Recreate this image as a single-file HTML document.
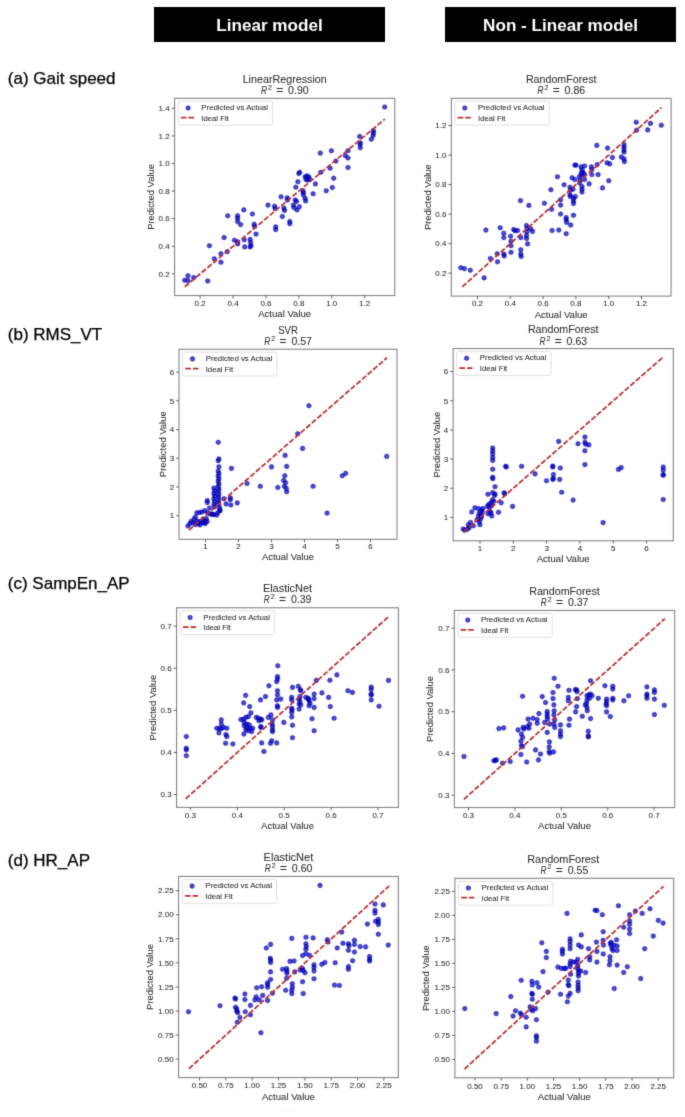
<!DOCTYPE html>
<html><head><meta charset="utf-8"><style>
html,body{margin:0;padding:0;background:#fff;}
body{width:685px;height:1117px;overflow:hidden;position:relative;font-family:'Liberation Sans', sans-serif;}
#wrap{position:absolute;left:0;top:0;width:685px;height:1117px;background:#fff;filter:url(#bl);}
.hdr{position:absolute;top:7px;height:35px;background:#000;color:#fff;font-weight:bold;font-size:17.1px;text-align:center;line-height:38px;}
.row{position:absolute;left:7.8px;font-size:17.0px;color:#000;line-height:1;white-space:nowrap;-webkit-text-stroke:0.25px #000;}
svg{position:absolute;left:0;top:0;}
svg text{font-family:'Liberation Sans', sans-serif;stroke:#2a2a2a;stroke-width:0.05px;paint-order:stroke;}
</style></head><body><svg width="0" height="0" style="position:absolute"><defs><filter id="bl" x="0" y="0" width="100%" height="100%" color-interpolation-filters="sRGB"><feConvolveMatrix order="3" kernelMatrix="1 6 1 6 36 6 1 6 1" divisor="64" edgeMode="duplicate" preserveAlpha="false"/></filter></defs></svg><div id="wrap">
<div class="hdr" style="left:154px;width:231px;">Linear model</div>
<div class="hdr" style="left:445px;width:231px;">Non - Linear model</div>
<div class="row" style="top:69.5px">(a) Gait speed</div>
<div class="row" style="top:326.3px">(b) RMS_VT</div>
<div class="row" style="top:575.1px">(c) SampEn_AP</div>
<div class="row" style="top:851.9px">(d) HR_AP</div>
<svg width="685" height="1117" viewBox="0 0 685 1117">
<g><circle cx="184.7" cy="280.2" r="2.3" fill="#0000d2" fill-opacity="0.72" stroke="#000098" stroke-opacity="0.7" stroke-width="0.6"/><circle cx="188.0" cy="275.8" r="2.3" fill="#0000d2" fill-opacity="0.72" stroke="#000098" stroke-opacity="0.7" stroke-width="0.6"/><circle cx="188.0" cy="280.6" r="2.3" fill="#0000d2" fill-opacity="0.72" stroke="#000098" stroke-opacity="0.7" stroke-width="0.6"/><circle cx="193.7" cy="277.6" r="2.3" fill="#0000d2" fill-opacity="0.72" stroke="#000098" stroke-opacity="0.7" stroke-width="0.6"/><circle cx="207.7" cy="281.0" r="2.3" fill="#0000d2" fill-opacity="0.72" stroke="#000098" stroke-opacity="0.7" stroke-width="0.6"/><circle cx="209.4" cy="245.7" r="2.3" fill="#0000d2" fill-opacity="0.72" stroke="#000098" stroke-opacity="0.7" stroke-width="0.6"/><circle cx="214.3" cy="258.8" r="2.3" fill="#0000d2" fill-opacity="0.72" stroke="#000098" stroke-opacity="0.7" stroke-width="0.6"/><circle cx="220.9" cy="262.2" r="2.3" fill="#0000d2" fill-opacity="0.72" stroke="#000098" stroke-opacity="0.7" stroke-width="0.6"/><circle cx="220.9" cy="253.7" r="2.3" fill="#0000d2" fill-opacity="0.72" stroke="#000098" stroke-opacity="0.7" stroke-width="0.6"/><circle cx="227.3" cy="251.6" r="2.3" fill="#0000d2" fill-opacity="0.72" stroke="#000098" stroke-opacity="0.7" stroke-width="0.6"/><circle cx="224.1" cy="237.6" r="2.3" fill="#0000d2" fill-opacity="0.72" stroke="#000098" stroke-opacity="0.7" stroke-width="0.6"/><circle cx="227.7" cy="215.8" r="2.3" fill="#0000d2" fill-opacity="0.72" stroke="#000098" stroke-opacity="0.7" stroke-width="0.6"/><circle cx="234.5" cy="240.3" r="2.3" fill="#0000d2" fill-opacity="0.72" stroke="#000098" stroke-opacity="0.7" stroke-width="0.6"/><circle cx="237.6" cy="241.8" r="2.3" fill="#0000d2" fill-opacity="0.72" stroke="#000098" stroke-opacity="0.7" stroke-width="0.6"/><circle cx="237.6" cy="243.9" r="2.3" fill="#0000d2" fill-opacity="0.72" stroke="#000098" stroke-opacity="0.7" stroke-width="0.6"/><circle cx="237.6" cy="215.8" r="2.3" fill="#0000d2" fill-opacity="0.72" stroke="#000098" stroke-opacity="0.7" stroke-width="0.6"/><circle cx="237.6" cy="218.3" r="2.3" fill="#0000d2" fill-opacity="0.72" stroke="#000098" stroke-opacity="0.7" stroke-width="0.6"/><circle cx="237.6" cy="221.5" r="2.3" fill="#0000d2" fill-opacity="0.72" stroke="#000098" stroke-opacity="0.7" stroke-width="0.6"/><circle cx="240.6" cy="224.6" r="2.3" fill="#0000d2" fill-opacity="0.72" stroke="#000098" stroke-opacity="0.7" stroke-width="0.6"/><circle cx="243.8" cy="209.9" r="2.3" fill="#0000d2" fill-opacity="0.72" stroke="#000098" stroke-opacity="0.7" stroke-width="0.6"/><circle cx="244.2" cy="239.8" r="2.3" fill="#0000d2" fill-opacity="0.72" stroke="#000098" stroke-opacity="0.7" stroke-width="0.6"/><circle cx="244.7" cy="246.9" r="2.3" fill="#0000d2" fill-opacity="0.72" stroke="#000098" stroke-opacity="0.7" stroke-width="0.6"/><circle cx="250.1" cy="239.4" r="2.3" fill="#0000d2" fill-opacity="0.72" stroke="#000098" stroke-opacity="0.7" stroke-width="0.6"/><circle cx="250.6" cy="242.6" r="2.3" fill="#0000d2" fill-opacity="0.72" stroke="#000098" stroke-opacity="0.7" stroke-width="0.6"/><circle cx="251.0" cy="245.7" r="2.3" fill="#0000d2" fill-opacity="0.72" stroke="#000098" stroke-opacity="0.7" stroke-width="0.6"/><circle cx="250.1" cy="246.9" r="2.3" fill="#0000d2" fill-opacity="0.72" stroke="#000098" stroke-opacity="0.7" stroke-width="0.6"/><circle cx="252.4" cy="214.0" r="2.3" fill="#0000d2" fill-opacity="0.72" stroke="#000098" stroke-opacity="0.7" stroke-width="0.6"/><circle cx="254.2" cy="224.2" r="2.3" fill="#0000d2" fill-opacity="0.72" stroke="#000098" stroke-opacity="0.7" stroke-width="0.6"/><circle cx="254.6" cy="226.5" r="2.3" fill="#0000d2" fill-opacity="0.72" stroke="#000098" stroke-opacity="0.7" stroke-width="0.6"/><circle cx="256.0" cy="234.1" r="2.3" fill="#0000d2" fill-opacity="0.72" stroke="#000098" stroke-opacity="0.7" stroke-width="0.6"/><circle cx="268.0" cy="205.1" r="2.3" fill="#0000d2" fill-opacity="0.72" stroke="#000098" stroke-opacity="0.7" stroke-width="0.6"/><circle cx="274.6" cy="206.3" r="2.3" fill="#0000d2" fill-opacity="0.72" stroke="#000098" stroke-opacity="0.7" stroke-width="0.6"/><circle cx="275.1" cy="208.6" r="2.3" fill="#0000d2" fill-opacity="0.72" stroke="#000098" stroke-opacity="0.7" stroke-width="0.6"/><circle cx="275.7" cy="226.9" r="2.3" fill="#0000d2" fill-opacity="0.72" stroke="#000098" stroke-opacity="0.7" stroke-width="0.6"/><circle cx="275.7" cy="229.6" r="2.3" fill="#0000d2" fill-opacity="0.72" stroke="#000098" stroke-opacity="0.7" stroke-width="0.6"/><circle cx="281.1" cy="196.8" r="2.3" fill="#0000d2" fill-opacity="0.72" stroke="#000098" stroke-opacity="0.7" stroke-width="0.6"/><circle cx="282.3" cy="216.5" r="2.3" fill="#0000d2" fill-opacity="0.72" stroke="#000098" stroke-opacity="0.7" stroke-width="0.6"/><circle cx="283.9" cy="208.1" r="2.3" fill="#0000d2" fill-opacity="0.72" stroke="#000098" stroke-opacity="0.7" stroke-width="0.6"/><circle cx="284.5" cy="210.4" r="2.3" fill="#0000d2" fill-opacity="0.72" stroke="#000098" stroke-opacity="0.7" stroke-width="0.6"/><circle cx="287.2" cy="197.9" r="2.3" fill="#0000d2" fill-opacity="0.72" stroke="#000098" stroke-opacity="0.7" stroke-width="0.6"/><circle cx="287.5" cy="200.0" r="2.3" fill="#0000d2" fill-opacity="0.72" stroke="#000098" stroke-opacity="0.7" stroke-width="0.6"/><circle cx="289.8" cy="221.5" r="2.3" fill="#0000d2" fill-opacity="0.72" stroke="#000098" stroke-opacity="0.7" stroke-width="0.6"/><circle cx="289.8" cy="223.7" r="2.3" fill="#0000d2" fill-opacity="0.72" stroke="#000098" stroke-opacity="0.7" stroke-width="0.6"/><circle cx="293.4" cy="205.1" r="2.3" fill="#0000d2" fill-opacity="0.72" stroke="#000098" stroke-opacity="0.7" stroke-width="0.6"/><circle cx="294.0" cy="207.6" r="2.3" fill="#0000d2" fill-opacity="0.72" stroke="#000098" stroke-opacity="0.7" stroke-width="0.6"/><circle cx="295.2" cy="200.0" r="2.3" fill="#0000d2" fill-opacity="0.72" stroke="#000098" stroke-opacity="0.7" stroke-width="0.6"/><circle cx="296.5" cy="201.5" r="2.3" fill="#0000d2" fill-opacity="0.72" stroke="#000098" stroke-opacity="0.7" stroke-width="0.6"/><circle cx="297.0" cy="209.9" r="2.3" fill="#0000d2" fill-opacity="0.72" stroke="#000098" stroke-opacity="0.7" stroke-width="0.6"/><circle cx="299.3" cy="206.8" r="2.3" fill="#0000d2" fill-opacity="0.72" stroke="#000098" stroke-opacity="0.7" stroke-width="0.6"/><circle cx="295.8" cy="187.2" r="2.3" fill="#0000d2" fill-opacity="0.72" stroke="#000098" stroke-opacity="0.7" stroke-width="0.6"/><circle cx="297.9" cy="181.8" r="2.3" fill="#0000d2" fill-opacity="0.72" stroke="#000098" stroke-opacity="0.7" stroke-width="0.6"/><circle cx="298.8" cy="173.5" r="2.3" fill="#0000d2" fill-opacity="0.72" stroke="#000098" stroke-opacity="0.7" stroke-width="0.6"/><circle cx="299.7" cy="172.3" r="2.3" fill="#0000d2" fill-opacity="0.72" stroke="#000098" stroke-opacity="0.7" stroke-width="0.6"/><circle cx="302.9" cy="190.7" r="2.3" fill="#0000d2" fill-opacity="0.72" stroke="#000098" stroke-opacity="0.7" stroke-width="0.6"/><circle cx="303.3" cy="192.5" r="2.3" fill="#0000d2" fill-opacity="0.72" stroke="#000098" stroke-opacity="0.7" stroke-width="0.6"/><circle cx="303.3" cy="194.7" r="2.3" fill="#0000d2" fill-opacity="0.72" stroke="#000098" stroke-opacity="0.7" stroke-width="0.6"/><circle cx="305.1" cy="198.3" r="2.3" fill="#0000d2" fill-opacity="0.72" stroke="#000098" stroke-opacity="0.7" stroke-width="0.6"/><circle cx="305.6" cy="200.9" r="2.3" fill="#0000d2" fill-opacity="0.72" stroke="#000098" stroke-opacity="0.7" stroke-width="0.6"/><circle cx="305.1" cy="176.8" r="2.3" fill="#0000d2" fill-opacity="0.72" stroke="#000098" stroke-opacity="0.7" stroke-width="0.6"/><circle cx="306.9" cy="175.9" r="2.3" fill="#0000d2" fill-opacity="0.72" stroke="#000098" stroke-opacity="0.7" stroke-width="0.6"/><circle cx="308.6" cy="176.8" r="2.3" fill="#0000d2" fill-opacity="0.72" stroke="#000098" stroke-opacity="0.7" stroke-width="0.6"/><circle cx="306.0" cy="179.5" r="2.3" fill="#0000d2" fill-opacity="0.72" stroke="#000098" stroke-opacity="0.7" stroke-width="0.6"/><circle cx="307.7" cy="180.0" r="2.3" fill="#0000d2" fill-opacity="0.72" stroke="#000098" stroke-opacity="0.7" stroke-width="0.6"/><circle cx="309.5" cy="178.9" r="2.3" fill="#0000d2" fill-opacity="0.72" stroke="#000098" stroke-opacity="0.7" stroke-width="0.6"/><circle cx="313.1" cy="193.8" r="2.3" fill="#0000d2" fill-opacity="0.72" stroke="#000098" stroke-opacity="0.7" stroke-width="0.6"/><circle cx="315.4" cy="183.9" r="2.3" fill="#0000d2" fill-opacity="0.72" stroke="#000098" stroke-opacity="0.7" stroke-width="0.6"/><circle cx="320.3" cy="153.1" r="2.3" fill="#0000d2" fill-opacity="0.72" stroke="#000098" stroke-opacity="0.7" stroke-width="0.6"/><circle cx="320.8" cy="172.3" r="2.3" fill="#0000d2" fill-opacity="0.72" stroke="#000098" stroke-opacity="0.7" stroke-width="0.6"/><circle cx="326.2" cy="190.7" r="2.3" fill="#0000d2" fill-opacity="0.72" stroke="#000098" stroke-opacity="0.7" stroke-width="0.6"/><circle cx="330.1" cy="168.2" r="2.3" fill="#0000d2" fill-opacity="0.72" stroke="#000098" stroke-opacity="0.7" stroke-width="0.6"/><circle cx="331.4" cy="150.8" r="2.3" fill="#0000d2" fill-opacity="0.72" stroke="#000098" stroke-opacity="0.7" stroke-width="0.6"/><circle cx="332.3" cy="187.5" r="2.3" fill="#0000d2" fill-opacity="0.72" stroke="#000098" stroke-opacity="0.7" stroke-width="0.6"/><circle cx="333.7" cy="178.2" r="2.3" fill="#0000d2" fill-opacity="0.72" stroke="#000098" stroke-opacity="0.7" stroke-width="0.6"/><circle cx="335.9" cy="161.0" r="2.3" fill="#0000d2" fill-opacity="0.72" stroke="#000098" stroke-opacity="0.7" stroke-width="0.6"/><circle cx="345.3" cy="155.6" r="2.3" fill="#0000d2" fill-opacity="0.72" stroke="#000098" stroke-opacity="0.7" stroke-width="0.6"/><circle cx="348.0" cy="158.0" r="2.3" fill="#0000d2" fill-opacity="0.72" stroke="#000098" stroke-opacity="0.7" stroke-width="0.6"/><circle cx="348.0" cy="150.8" r="2.3" fill="#0000d2" fill-opacity="0.72" stroke="#000098" stroke-opacity="0.7" stroke-width="0.6"/><circle cx="348.0" cy="167.5" r="2.3" fill="#0000d2" fill-opacity="0.72" stroke="#000098" stroke-opacity="0.7" stroke-width="0.6"/><circle cx="359.7" cy="136.5" r="2.3" fill="#0000d2" fill-opacity="0.72" stroke="#000098" stroke-opacity="0.7" stroke-width="0.6"/><circle cx="360.2" cy="142.8" r="2.3" fill="#0000d2" fill-opacity="0.72" stroke="#000098" stroke-opacity="0.7" stroke-width="0.6"/><circle cx="360.2" cy="144.5" r="2.3" fill="#0000d2" fill-opacity="0.72" stroke="#000098" stroke-opacity="0.7" stroke-width="0.6"/><circle cx="360.2" cy="147.8" r="2.3" fill="#0000d2" fill-opacity="0.72" stroke="#000098" stroke-opacity="0.7" stroke-width="0.6"/><circle cx="371.3" cy="139.2" r="2.3" fill="#0000d2" fill-opacity="0.72" stroke="#000098" stroke-opacity="0.7" stroke-width="0.6"/><circle cx="373.1" cy="135.6" r="2.3" fill="#0000d2" fill-opacity="0.72" stroke="#000098" stroke-opacity="0.7" stroke-width="0.6"/><circle cx="373.4" cy="132.9" r="2.3" fill="#0000d2" fill-opacity="0.72" stroke="#000098" stroke-opacity="0.7" stroke-width="0.6"/><circle cx="373.4" cy="130.6" r="2.3" fill="#0000d2" fill-opacity="0.72" stroke="#000098" stroke-opacity="0.7" stroke-width="0.6"/><circle cx="384.7" cy="107.0" r="2.3" fill="#0000d2" fill-opacity="0.72" stroke="#000098" stroke-opacity="0.7" stroke-width="0.6"/><line x1="184.79" y1="286.73" x2="384.78" y2="119.06" stroke="#c42c2c" stroke-width="1.75" stroke-dasharray="5.4 2.0"/><rect x="174.60" y="98.30" width="220.20" height="197.30" fill="none" stroke="#7a7a7a" stroke-width="1"/><line x1="200.10" y1="295.60" x2="200.10" y2="298.50" stroke="#555" stroke-width="0.9"/><text x="200.10" y="305.80" font-size="7.83" text-anchor="middle" fill="#2a2a2a" textLength="11.13" lengthAdjust="spacingAndGlyphs">0.2</text><line x1="233.02" y1="295.60" x2="233.02" y2="298.50" stroke="#555" stroke-width="0.9"/><text x="233.02" y="305.80" font-size="7.83" text-anchor="middle" fill="#2a2a2a" textLength="11.13" lengthAdjust="spacingAndGlyphs">0.4</text><line x1="265.94" y1="295.60" x2="265.94" y2="298.50" stroke="#555" stroke-width="0.9"/><text x="265.94" y="305.80" font-size="7.83" text-anchor="middle" fill="#2a2a2a" textLength="11.13" lengthAdjust="spacingAndGlyphs">0.6</text><line x1="298.86" y1="295.60" x2="298.86" y2="298.50" stroke="#555" stroke-width="0.9"/><text x="298.86" y="305.80" font-size="7.83" text-anchor="middle" fill="#2a2a2a" textLength="11.13" lengthAdjust="spacingAndGlyphs">0.8</text><line x1="331.78" y1="295.60" x2="331.78" y2="298.50" stroke="#555" stroke-width="0.9"/><text x="331.78" y="305.80" font-size="7.83" text-anchor="middle" fill="#2a2a2a" textLength="11.13" lengthAdjust="spacingAndGlyphs">1.0</text><line x1="364.70" y1="295.60" x2="364.70" y2="298.50" stroke="#555" stroke-width="0.9"/><text x="364.70" y="305.80" font-size="7.83" text-anchor="middle" fill="#2a2a2a" textLength="11.13" lengthAdjust="spacingAndGlyphs">1.2</text><line x1="171.70" y1="273.90" x2="174.60" y2="273.90" stroke="#555" stroke-width="0.9"/><text x="169.70" y="276.65" font-size="7.83" text-anchor="end" fill="#2a2a2a" textLength="11.13" lengthAdjust="spacingAndGlyphs">0.2</text><line x1="171.70" y1="246.30" x2="174.60" y2="246.30" stroke="#555" stroke-width="0.9"/><text x="169.70" y="249.05" font-size="7.83" text-anchor="end" fill="#2a2a2a" textLength="11.13" lengthAdjust="spacingAndGlyphs">0.4</text><line x1="171.70" y1="218.70" x2="174.60" y2="218.70" stroke="#555" stroke-width="0.9"/><text x="169.70" y="221.45" font-size="7.83" text-anchor="end" fill="#2a2a2a" textLength="11.13" lengthAdjust="spacingAndGlyphs">0.6</text><line x1="171.70" y1="191.10" x2="174.60" y2="191.10" stroke="#555" stroke-width="0.9"/><text x="169.70" y="193.85" font-size="7.83" text-anchor="end" fill="#2a2a2a" textLength="11.13" lengthAdjust="spacingAndGlyphs">0.8</text><line x1="171.70" y1="163.50" x2="174.60" y2="163.50" stroke="#555" stroke-width="0.9"/><text x="169.70" y="166.25" font-size="7.83" text-anchor="end" fill="#2a2a2a" textLength="11.13" lengthAdjust="spacingAndGlyphs">1.0</text><line x1="171.70" y1="135.90" x2="174.60" y2="135.90" stroke="#555" stroke-width="0.9"/><text x="169.70" y="138.65" font-size="7.83" text-anchor="end" fill="#2a2a2a" textLength="11.13" lengthAdjust="spacingAndGlyphs">1.2</text><line x1="171.70" y1="108.30" x2="174.60" y2="108.30" stroke="#555" stroke-width="0.9"/><text x="169.70" y="111.05" font-size="7.83" text-anchor="end" fill="#2a2a2a" textLength="11.13" lengthAdjust="spacingAndGlyphs">1.4</text><text x="284.70" y="317.20" font-size="8.88" text-anchor="middle" fill="#2a2a2a" textLength="53.00" lengthAdjust="spacingAndGlyphs">Actual Value</text><text x="0" y="0" font-size="8.88" text-anchor="middle" fill="#2a2a2a" textLength="65.8" lengthAdjust="spacingAndGlyphs" transform="translate(154.12,196.95) rotate(-90)">Predicted Value</text><text x="284.70" y="82.50" font-size="10.24" text-anchor="middle" fill="#2a2a2a" textLength="84.06" lengthAdjust="spacingAndGlyphs">LinearRegression</text><text x="260.90" y="93.90" font-size="10.24" font-style="italic" fill="#2a2a2a" textLength="6.0" lengthAdjust="spacingAndGlyphs">R</text><text x="268.00" y="89.80" font-size="7.37" fill="#2a2a2a" textLength="3.9" lengthAdjust="spacingAndGlyphs">2</text><text x="276.20" y="93.90" font-size="10.24" fill="#2a2a2a" textLength="7.0" lengthAdjust="spacingAndGlyphs">=</text><text x="288.10" y="93.90" font-size="10.24" fill="#2a2a2a" textLength="20.6" lengthAdjust="spacingAndGlyphs">0.90</text><rect x="178.20" y="101.30" width="94.3" height="23.8" rx="1.5" fill="#fff" fill-opacity="0.8" stroke="#d9d9d9" stroke-width="0.8"/><circle cx="188.10" cy="108.00" r="2.3" fill="#0000d2" fill-opacity="0.72" stroke="#000098" stroke-opacity="0.7" stroke-width="0.6"/><line x1="180.90" y1="117.70" x2="194.00" y2="117.70" stroke="#c42c2c" stroke-width="1.75" stroke-dasharray="5.6 2.1"/><text x="201.30" y="110.10" font-size="7.31" text-anchor="start" fill="#2a2a2a" textLength="66.60" lengthAdjust="spacingAndGlyphs">Predicted vs Actual</text><text x="201.30" y="120.70" font-size="7.31" text-anchor="start" fill="#2a2a2a" textLength="27.48" lengthAdjust="spacingAndGlyphs">Ideal Fit</text></g><g><circle cx="460.8" cy="267.7" r="2.3" fill="#0000d2" fill-opacity="0.72" stroke="#000098" stroke-opacity="0.7" stroke-width="0.6"/><circle cx="464.4" cy="268.6" r="2.3" fill="#0000d2" fill-opacity="0.72" stroke="#000098" stroke-opacity="0.7" stroke-width="0.6"/><circle cx="470.3" cy="270.2" r="2.3" fill="#0000d2" fill-opacity="0.72" stroke="#000098" stroke-opacity="0.7" stroke-width="0.6"/><circle cx="484.1" cy="277.9" r="2.3" fill="#0000d2" fill-opacity="0.72" stroke="#000098" stroke-opacity="0.7" stroke-width="0.6"/><circle cx="485.9" cy="230.1" r="2.3" fill="#0000d2" fill-opacity="0.72" stroke="#000098" stroke-opacity="0.7" stroke-width="0.6"/><circle cx="490.4" cy="258.6" r="2.3" fill="#0000d2" fill-opacity="0.72" stroke="#000098" stroke-opacity="0.7" stroke-width="0.6"/><circle cx="497.2" cy="253.7" r="2.3" fill="#0000d2" fill-opacity="0.72" stroke="#000098" stroke-opacity="0.7" stroke-width="0.6"/><circle cx="497.5" cy="261.8" r="2.3" fill="#0000d2" fill-opacity="0.72" stroke="#000098" stroke-opacity="0.7" stroke-width="0.6"/><circle cx="500.2" cy="227.8" r="2.3" fill="#0000d2" fill-opacity="0.72" stroke="#000098" stroke-opacity="0.7" stroke-width="0.6"/><circle cx="503.8" cy="233.2" r="2.3" fill="#0000d2" fill-opacity="0.72" stroke="#000098" stroke-opacity="0.7" stroke-width="0.6"/><circle cx="503.8" cy="237.6" r="2.3" fill="#0000d2" fill-opacity="0.72" stroke="#000098" stroke-opacity="0.7" stroke-width="0.6"/><circle cx="503.8" cy="254.1" r="2.3" fill="#0000d2" fill-opacity="0.72" stroke="#000098" stroke-opacity="0.7" stroke-width="0.6"/><circle cx="504.2" cy="255.9" r="2.3" fill="#0000d2" fill-opacity="0.72" stroke="#000098" stroke-opacity="0.7" stroke-width="0.6"/><circle cx="510.6" cy="236.2" r="2.3" fill="#0000d2" fill-opacity="0.72" stroke="#000098" stroke-opacity="0.7" stroke-width="0.6"/><circle cx="511.0" cy="241.2" r="2.3" fill="#0000d2" fill-opacity="0.72" stroke="#000098" stroke-opacity="0.7" stroke-width="0.6"/><circle cx="511.0" cy="245.7" r="2.3" fill="#0000d2" fill-opacity="0.72" stroke="#000098" stroke-opacity="0.7" stroke-width="0.6"/><circle cx="511.0" cy="252.3" r="2.3" fill="#0000d2" fill-opacity="0.72" stroke="#000098" stroke-opacity="0.7" stroke-width="0.6"/><circle cx="513.7" cy="229.6" r="2.3" fill="#0000d2" fill-opacity="0.72" stroke="#000098" stroke-opacity="0.7" stroke-width="0.6"/><circle cx="515.1" cy="230.8" r="2.3" fill="#0000d2" fill-opacity="0.72" stroke="#000098" stroke-opacity="0.7" stroke-width="0.6"/><circle cx="517.6" cy="230.5" r="2.3" fill="#0000d2" fill-opacity="0.72" stroke="#000098" stroke-opacity="0.7" stroke-width="0.6"/><circle cx="520.5" cy="200.6" r="2.3" fill="#0000d2" fill-opacity="0.72" stroke="#000098" stroke-opacity="0.7" stroke-width="0.6"/><circle cx="520.8" cy="237.6" r="2.3" fill="#0000d2" fill-opacity="0.72" stroke="#000098" stroke-opacity="0.7" stroke-width="0.6"/><circle cx="520.8" cy="249.8" r="2.3" fill="#0000d2" fill-opacity="0.72" stroke="#000098" stroke-opacity="0.7" stroke-width="0.6"/><circle cx="520.8" cy="254.1" r="2.3" fill="#0000d2" fill-opacity="0.72" stroke="#000098" stroke-opacity="0.7" stroke-width="0.6"/><circle cx="521.2" cy="256.4" r="2.3" fill="#0000d2" fill-opacity="0.72" stroke="#000098" stroke-opacity="0.7" stroke-width="0.6"/><circle cx="526.5" cy="225.5" r="2.3" fill="#0000d2" fill-opacity="0.72" stroke="#000098" stroke-opacity="0.7" stroke-width="0.6"/><circle cx="527.1" cy="228.3" r="2.3" fill="#0000d2" fill-opacity="0.72" stroke="#000098" stroke-opacity="0.7" stroke-width="0.6"/><circle cx="526.9" cy="231.9" r="2.3" fill="#0000d2" fill-opacity="0.72" stroke="#000098" stroke-opacity="0.7" stroke-width="0.6"/><circle cx="526.5" cy="235.5" r="2.3" fill="#0000d2" fill-opacity="0.72" stroke="#000098" stroke-opacity="0.7" stroke-width="0.6"/><circle cx="526.5" cy="238.5" r="2.3" fill="#0000d2" fill-opacity="0.72" stroke="#000098" stroke-opacity="0.7" stroke-width="0.6"/><circle cx="527.6" cy="243.9" r="2.3" fill="#0000d2" fill-opacity="0.72" stroke="#000098" stroke-opacity="0.7" stroke-width="0.6"/><circle cx="528.9" cy="205.4" r="2.3" fill="#0000d2" fill-opacity="0.72" stroke="#000098" stroke-opacity="0.7" stroke-width="0.6"/><circle cx="530.7" cy="228.7" r="2.3" fill="#0000d2" fill-opacity="0.72" stroke="#000098" stroke-opacity="0.7" stroke-width="0.6"/><circle cx="532.5" cy="231.4" r="2.3" fill="#0000d2" fill-opacity="0.72" stroke="#000098" stroke-opacity="0.7" stroke-width="0.6"/><circle cx="544.4" cy="203.3" r="2.3" fill="#0000d2" fill-opacity="0.72" stroke="#000098" stroke-opacity="0.7" stroke-width="0.6"/><circle cx="550.9" cy="189.7" r="2.3" fill="#0000d2" fill-opacity="0.72" stroke="#000098" stroke-opacity="0.7" stroke-width="0.6"/><circle cx="551.6" cy="209.3" r="2.3" fill="#0000d2" fill-opacity="0.72" stroke="#000098" stroke-opacity="0.7" stroke-width="0.6"/><circle cx="552.1" cy="230.5" r="2.3" fill="#0000d2" fill-opacity="0.72" stroke="#000098" stroke-opacity="0.7" stroke-width="0.6"/><circle cx="557.5" cy="176.8" r="2.3" fill="#0000d2" fill-opacity="0.72" stroke="#000098" stroke-opacity="0.7" stroke-width="0.6"/><circle cx="558.8" cy="230.1" r="2.3" fill="#0000d2" fill-opacity="0.72" stroke="#000098" stroke-opacity="0.7" stroke-width="0.6"/><circle cx="560.6" cy="199.7" r="2.3" fill="#0000d2" fill-opacity="0.72" stroke="#000098" stroke-opacity="0.7" stroke-width="0.6"/><circle cx="560.6" cy="205.1" r="2.3" fill="#0000d2" fill-opacity="0.72" stroke="#000098" stroke-opacity="0.7" stroke-width="0.6"/><circle cx="560.6" cy="214.0" r="2.3" fill="#0000d2" fill-opacity="0.72" stroke="#000098" stroke-opacity="0.7" stroke-width="0.6"/><circle cx="564.1" cy="184.8" r="2.3" fill="#0000d2" fill-opacity="0.72" stroke="#000098" stroke-opacity="0.7" stroke-width="0.6"/><circle cx="566.2" cy="217.6" r="2.3" fill="#0000d2" fill-opacity="0.72" stroke="#000098" stroke-opacity="0.7" stroke-width="0.6"/><circle cx="566.2" cy="219.7" r="2.3" fill="#0000d2" fill-opacity="0.72" stroke="#000098" stroke-opacity="0.7" stroke-width="0.6"/><circle cx="566.7" cy="222.4" r="2.3" fill="#0000d2" fill-opacity="0.72" stroke="#000098" stroke-opacity="0.7" stroke-width="0.6"/><circle cx="566.2" cy="233.7" r="2.3" fill="#0000d2" fill-opacity="0.72" stroke="#000098" stroke-opacity="0.7" stroke-width="0.6"/><circle cx="570.7" cy="225.1" r="2.3" fill="#0000d2" fill-opacity="0.72" stroke="#000098" stroke-opacity="0.7" stroke-width="0.6"/><circle cx="570.0" cy="187.2" r="2.3" fill="#0000d2" fill-opacity="0.72" stroke="#000098" stroke-opacity="0.7" stroke-width="0.6"/><circle cx="570.3" cy="190.2" r="2.3" fill="#0000d2" fill-opacity="0.72" stroke="#000098" stroke-opacity="0.7" stroke-width="0.6"/><circle cx="570.0" cy="194.7" r="2.3" fill="#0000d2" fill-opacity="0.72" stroke="#000098" stroke-opacity="0.7" stroke-width="0.6"/><circle cx="570.3" cy="196.5" r="2.3" fill="#0000d2" fill-opacity="0.72" stroke="#000098" stroke-opacity="0.7" stroke-width="0.6"/><circle cx="572.1" cy="177.7" r="2.3" fill="#0000d2" fill-opacity="0.72" stroke="#000098" stroke-opacity="0.7" stroke-width="0.6"/><circle cx="573.0" cy="189.3" r="2.3" fill="#0000d2" fill-opacity="0.72" stroke="#000098" stroke-opacity="0.7" stroke-width="0.6"/><circle cx="573.5" cy="198.3" r="2.3" fill="#0000d2" fill-opacity="0.72" stroke="#000098" stroke-opacity="0.7" stroke-width="0.6"/><circle cx="573.5" cy="200.9" r="2.3" fill="#0000d2" fill-opacity="0.72" stroke="#000098" stroke-opacity="0.7" stroke-width="0.6"/><circle cx="573.5" cy="203.6" r="2.3" fill="#0000d2" fill-opacity="0.72" stroke="#000098" stroke-opacity="0.7" stroke-width="0.6"/><circle cx="573.5" cy="215.3" r="2.3" fill="#0000d2" fill-opacity="0.72" stroke="#000098" stroke-opacity="0.7" stroke-width="0.6"/><circle cx="574.8" cy="179.5" r="2.3" fill="#0000d2" fill-opacity="0.72" stroke="#000098" stroke-opacity="0.7" stroke-width="0.6"/><circle cx="575.3" cy="196.5" r="2.3" fill="#0000d2" fill-opacity="0.72" stroke="#000098" stroke-opacity="0.7" stroke-width="0.6"/><circle cx="574.8" cy="165.1" r="2.3" fill="#0000d2" fill-opacity="0.72" stroke="#000098" stroke-opacity="0.7" stroke-width="0.6"/><circle cx="576.1" cy="165.1" r="2.3" fill="#0000d2" fill-opacity="0.72" stroke="#000098" stroke-opacity="0.7" stroke-width="0.6"/><circle cx="579.3" cy="176.8" r="2.3" fill="#0000d2" fill-opacity="0.72" stroke="#000098" stroke-opacity="0.7" stroke-width="0.6"/><circle cx="580.2" cy="180.3" r="2.3" fill="#0000d2" fill-opacity="0.72" stroke="#000098" stroke-opacity="0.7" stroke-width="0.6"/><circle cx="579.6" cy="183.0" r="2.3" fill="#0000d2" fill-opacity="0.72" stroke="#000098" stroke-opacity="0.7" stroke-width="0.6"/><circle cx="581.1" cy="166.9" r="2.3" fill="#0000d2" fill-opacity="0.72" stroke="#000098" stroke-opacity="0.7" stroke-width="0.6"/><circle cx="582.0" cy="169.6" r="2.3" fill="#0000d2" fill-opacity="0.72" stroke="#000098" stroke-opacity="0.7" stroke-width="0.6"/><circle cx="582.9" cy="172.3" r="2.3" fill="#0000d2" fill-opacity="0.72" stroke="#000098" stroke-opacity="0.7" stroke-width="0.6"/><circle cx="581.1" cy="173.2" r="2.3" fill="#0000d2" fill-opacity="0.72" stroke="#000098" stroke-opacity="0.7" stroke-width="0.6"/><circle cx="582.0" cy="175.3" r="2.3" fill="#0000d2" fill-opacity="0.72" stroke="#000098" stroke-opacity="0.7" stroke-width="0.6"/><circle cx="584.3" cy="174.1" r="2.3" fill="#0000d2" fill-opacity="0.72" stroke="#000098" stroke-opacity="0.7" stroke-width="0.6"/><circle cx="584.6" cy="166.0" r="2.3" fill="#0000d2" fill-opacity="0.72" stroke="#000098" stroke-opacity="0.7" stroke-width="0.6"/><circle cx="582.0" cy="186.6" r="2.3" fill="#0000d2" fill-opacity="0.72" stroke="#000098" stroke-opacity="0.7" stroke-width="0.6"/><circle cx="582.0" cy="189.3" r="2.3" fill="#0000d2" fill-opacity="0.72" stroke="#000098" stroke-opacity="0.7" stroke-width="0.6"/><circle cx="582.0" cy="192.0" r="2.3" fill="#0000d2" fill-opacity="0.72" stroke="#000098" stroke-opacity="0.7" stroke-width="0.6"/><circle cx="584.6" cy="179.5" r="2.3" fill="#0000d2" fill-opacity="0.72" stroke="#000098" stroke-opacity="0.7" stroke-width="0.6"/><circle cx="589.1" cy="183.9" r="2.3" fill="#0000d2" fill-opacity="0.72" stroke="#000098" stroke-opacity="0.7" stroke-width="0.6"/><circle cx="591.4" cy="166.9" r="2.3" fill="#0000d2" fill-opacity="0.72" stroke="#000098" stroke-opacity="0.7" stroke-width="0.6"/><circle cx="591.8" cy="169.6" r="2.3" fill="#0000d2" fill-opacity="0.72" stroke="#000098" stroke-opacity="0.7" stroke-width="0.6"/><circle cx="591.8" cy="174.6" r="2.3" fill="#0000d2" fill-opacity="0.72" stroke="#000098" stroke-opacity="0.7" stroke-width="0.6"/><circle cx="596.8" cy="145.4" r="2.3" fill="#0000d2" fill-opacity="0.72" stroke="#000098" stroke-opacity="0.7" stroke-width="0.6"/><circle cx="597.2" cy="164.6" r="2.3" fill="#0000d2" fill-opacity="0.72" stroke="#000098" stroke-opacity="0.7" stroke-width="0.6"/><circle cx="598.1" cy="174.6" r="2.3" fill="#0000d2" fill-opacity="0.72" stroke="#000098" stroke-opacity="0.7" stroke-width="0.6"/><circle cx="602.5" cy="187.9" r="2.3" fill="#0000d2" fill-opacity="0.72" stroke="#000098" stroke-opacity="0.7" stroke-width="0.6"/><circle cx="607.0" cy="162.8" r="2.3" fill="#0000d2" fill-opacity="0.72" stroke="#000098" stroke-opacity="0.7" stroke-width="0.6"/><circle cx="609.7" cy="163.9" r="2.3" fill="#0000d2" fill-opacity="0.72" stroke="#000098" stroke-opacity="0.7" stroke-width="0.6"/><circle cx="607.6" cy="148.1" r="2.3" fill="#0000d2" fill-opacity="0.72" stroke="#000098" stroke-opacity="0.7" stroke-width="0.6"/><circle cx="608.8" cy="180.7" r="2.3" fill="#0000d2" fill-opacity="0.72" stroke="#000098" stroke-opacity="0.7" stroke-width="0.6"/><circle cx="612.4" cy="157.6" r="2.3" fill="#0000d2" fill-opacity="0.72" stroke="#000098" stroke-opacity="0.7" stroke-width="0.6"/><circle cx="621.3" cy="157.1" r="2.3" fill="#0000d2" fill-opacity="0.72" stroke="#000098" stroke-opacity="0.7" stroke-width="0.6"/><circle cx="624.0" cy="144.5" r="2.3" fill="#0000d2" fill-opacity="0.72" stroke="#000098" stroke-opacity="0.7" stroke-width="0.6"/><circle cx="624.0" cy="147.2" r="2.3" fill="#0000d2" fill-opacity="0.72" stroke="#000098" stroke-opacity="0.7" stroke-width="0.6"/><circle cx="624.0" cy="149.9" r="2.3" fill="#0000d2" fill-opacity="0.72" stroke="#000098" stroke-opacity="0.7" stroke-width="0.6"/><circle cx="624.0" cy="152.1" r="2.3" fill="#0000d2" fill-opacity="0.72" stroke="#000098" stroke-opacity="0.7" stroke-width="0.6"/><circle cx="624.0" cy="158.9" r="2.3" fill="#0000d2" fill-opacity="0.72" stroke="#000098" stroke-opacity="0.7" stroke-width="0.6"/><circle cx="624.4" cy="161.6" r="2.3" fill="#0000d2" fill-opacity="0.72" stroke="#000098" stroke-opacity="0.7" stroke-width="0.6"/><circle cx="636.2" cy="122.2" r="2.3" fill="#0000d2" fill-opacity="0.72" stroke="#000098" stroke-opacity="0.7" stroke-width="0.6"/><circle cx="636.6" cy="130.2" r="2.3" fill="#0000d2" fill-opacity="0.72" stroke="#000098" stroke-opacity="0.7" stroke-width="0.6"/><circle cx="647.7" cy="129.9" r="2.3" fill="#0000d2" fill-opacity="0.72" stroke="#000098" stroke-opacity="0.7" stroke-width="0.6"/><circle cx="650.5" cy="123.4" r="2.3" fill="#0000d2" fill-opacity="0.72" stroke="#000098" stroke-opacity="0.7" stroke-width="0.6"/><circle cx="661.3" cy="125.2" r="2.3" fill="#0000d2" fill-opacity="0.72" stroke="#000098" stroke-opacity="0.7" stroke-width="0.6"/><line x1="462.25" y1="286.82" x2="661.51" y2="107.60" stroke="#c42c2c" stroke-width="1.75" stroke-dasharray="5.4 2.0"/><rect x="451.30" y="98.30" width="219.80" height="197.80" fill="none" stroke="#7a7a7a" stroke-width="1"/><line x1="477.50" y1="296.10" x2="477.50" y2="299.00" stroke="#555" stroke-width="0.9"/><text x="477.50" y="306.30" font-size="7.83" text-anchor="middle" fill="#2a2a2a" textLength="11.13" lengthAdjust="spacingAndGlyphs">0.2</text><line x1="510.30" y1="296.10" x2="510.30" y2="299.00" stroke="#555" stroke-width="0.9"/><text x="510.30" y="306.30" font-size="7.83" text-anchor="middle" fill="#2a2a2a" textLength="11.13" lengthAdjust="spacingAndGlyphs">0.4</text><line x1="543.10" y1="296.10" x2="543.10" y2="299.00" stroke="#555" stroke-width="0.9"/><text x="543.10" y="306.30" font-size="7.83" text-anchor="middle" fill="#2a2a2a" textLength="11.13" lengthAdjust="spacingAndGlyphs">0.6</text><line x1="575.90" y1="296.10" x2="575.90" y2="299.00" stroke="#555" stroke-width="0.9"/><text x="575.90" y="306.30" font-size="7.83" text-anchor="middle" fill="#2a2a2a" textLength="11.13" lengthAdjust="spacingAndGlyphs">0.8</text><line x1="608.70" y1="296.10" x2="608.70" y2="299.00" stroke="#555" stroke-width="0.9"/><text x="608.70" y="306.30" font-size="7.83" text-anchor="middle" fill="#2a2a2a" textLength="11.13" lengthAdjust="spacingAndGlyphs">1.0</text><line x1="641.50" y1="296.10" x2="641.50" y2="299.00" stroke="#555" stroke-width="0.9"/><text x="641.50" y="306.30" font-size="7.83" text-anchor="middle" fill="#2a2a2a" textLength="11.13" lengthAdjust="spacingAndGlyphs">1.2</text><line x1="448.40" y1="273.10" x2="451.30" y2="273.10" stroke="#555" stroke-width="0.9"/><text x="446.40" y="275.85" font-size="7.83" text-anchor="end" fill="#2a2a2a" textLength="11.13" lengthAdjust="spacingAndGlyphs">0.2</text><line x1="448.40" y1="243.60" x2="451.30" y2="243.60" stroke="#555" stroke-width="0.9"/><text x="446.40" y="246.35" font-size="7.83" text-anchor="end" fill="#2a2a2a" textLength="11.13" lengthAdjust="spacingAndGlyphs">0.4</text><line x1="448.40" y1="214.10" x2="451.30" y2="214.10" stroke="#555" stroke-width="0.9"/><text x="446.40" y="216.85" font-size="7.83" text-anchor="end" fill="#2a2a2a" textLength="11.13" lengthAdjust="spacingAndGlyphs">0.6</text><line x1="448.40" y1="184.60" x2="451.30" y2="184.60" stroke="#555" stroke-width="0.9"/><text x="446.40" y="187.35" font-size="7.83" text-anchor="end" fill="#2a2a2a" textLength="11.13" lengthAdjust="spacingAndGlyphs">0.8</text><line x1="448.40" y1="155.10" x2="451.30" y2="155.10" stroke="#555" stroke-width="0.9"/><text x="446.40" y="157.85" font-size="7.83" text-anchor="end" fill="#2a2a2a" textLength="11.13" lengthAdjust="spacingAndGlyphs">1.0</text><line x1="448.40" y1="125.60" x2="451.30" y2="125.60" stroke="#555" stroke-width="0.9"/><text x="446.40" y="128.35" font-size="7.83" text-anchor="end" fill="#2a2a2a" textLength="11.13" lengthAdjust="spacingAndGlyphs">1.2</text><text x="561.20" y="317.70" font-size="8.88" text-anchor="middle" fill="#2a2a2a" textLength="53.00" lengthAdjust="spacingAndGlyphs">Actual Value</text><text x="0" y="0" font-size="8.88" text-anchor="middle" fill="#2a2a2a" textLength="65.8" lengthAdjust="spacingAndGlyphs" transform="translate(430.67,197.20) rotate(-90)">Predicted Value</text><text x="561.20" y="83.10" font-size="10.24" text-anchor="middle" fill="#2a2a2a" textLength="70.65" lengthAdjust="spacingAndGlyphs">RandomForest</text><text x="537.40" y="93.70" font-size="10.24" font-style="italic" fill="#2a2a2a" textLength="6.0" lengthAdjust="spacingAndGlyphs">R</text><text x="544.50" y="89.60" font-size="7.37" fill="#2a2a2a" textLength="3.9" lengthAdjust="spacingAndGlyphs">2</text><text x="552.70" y="93.70" font-size="10.24" fill="#2a2a2a" textLength="7.0" lengthAdjust="spacingAndGlyphs">=</text><text x="564.60" y="93.70" font-size="10.24" fill="#2a2a2a" textLength="20.6" lengthAdjust="spacingAndGlyphs">0.86</text><rect x="454.90" y="101.30" width="94.3" height="23.8" rx="1.5" fill="#fff" fill-opacity="0.8" stroke="#d9d9d9" stroke-width="0.8"/><circle cx="464.80" cy="108.00" r="2.3" fill="#0000d2" fill-opacity="0.72" stroke="#000098" stroke-opacity="0.7" stroke-width="0.6"/><line x1="457.60" y1="117.70" x2="470.70" y2="117.70" stroke="#c42c2c" stroke-width="1.75" stroke-dasharray="5.6 2.1"/><text x="478.00" y="110.10" font-size="7.31" text-anchor="start" fill="#2a2a2a" textLength="66.60" lengthAdjust="spacingAndGlyphs">Predicted vs Actual</text><text x="478.00" y="120.70" font-size="7.31" text-anchor="start" fill="#2a2a2a" textLength="27.48" lengthAdjust="spacingAndGlyphs">Ideal Fit</text></g><g><circle cx="218.2" cy="442.3" r="2.3" fill="#0000d2" fill-opacity="0.72" stroke="#000098" stroke-opacity="0.7" stroke-width="0.6"/><circle cx="218.9" cy="458.9" r="2.3" fill="#0000d2" fill-opacity="0.72" stroke="#000098" stroke-opacity="0.7" stroke-width="0.6"/><circle cx="218.2" cy="460.7" r="2.3" fill="#0000d2" fill-opacity="0.72" stroke="#000098" stroke-opacity="0.7" stroke-width="0.6"/><circle cx="218.9" cy="466.8" r="2.3" fill="#0000d2" fill-opacity="0.72" stroke="#000098" stroke-opacity="0.7" stroke-width="0.6"/><circle cx="218.2" cy="471.0" r="2.3" fill="#0000d2" fill-opacity="0.72" stroke="#000098" stroke-opacity="0.7" stroke-width="0.6"/><circle cx="218.9" cy="473.6" r="2.3" fill="#0000d2" fill-opacity="0.72" stroke="#000098" stroke-opacity="0.7" stroke-width="0.6"/><circle cx="218.2" cy="476.2" r="2.3" fill="#0000d2" fill-opacity="0.72" stroke="#000098" stroke-opacity="0.7" stroke-width="0.6"/><circle cx="218.9" cy="478.8" r="2.3" fill="#0000d2" fill-opacity="0.72" stroke="#000098" stroke-opacity="0.7" stroke-width="0.6"/><circle cx="218.2" cy="481.4" r="2.3" fill="#0000d2" fill-opacity="0.72" stroke="#000098" stroke-opacity="0.7" stroke-width="0.6"/><circle cx="218.9" cy="484.0" r="2.3" fill="#0000d2" fill-opacity="0.72" stroke="#000098" stroke-opacity="0.7" stroke-width="0.6"/><circle cx="218.2" cy="486.6" r="2.3" fill="#0000d2" fill-opacity="0.72" stroke="#000098" stroke-opacity="0.7" stroke-width="0.6"/><circle cx="218.9" cy="489.2" r="2.3" fill="#0000d2" fill-opacity="0.72" stroke="#000098" stroke-opacity="0.7" stroke-width="0.6"/><circle cx="218.2" cy="491.8" r="2.3" fill="#0000d2" fill-opacity="0.72" stroke="#000098" stroke-opacity="0.7" stroke-width="0.6"/><circle cx="218.9" cy="494.4" r="2.3" fill="#0000d2" fill-opacity="0.72" stroke="#000098" stroke-opacity="0.7" stroke-width="0.6"/><circle cx="218.2" cy="497.0" r="2.3" fill="#0000d2" fill-opacity="0.72" stroke="#000098" stroke-opacity="0.7" stroke-width="0.6"/><circle cx="218.9" cy="499.6" r="2.3" fill="#0000d2" fill-opacity="0.72" stroke="#000098" stroke-opacity="0.7" stroke-width="0.6"/><circle cx="218.2" cy="502.2" r="2.3" fill="#0000d2" fill-opacity="0.72" stroke="#000098" stroke-opacity="0.7" stroke-width="0.6"/><circle cx="218.9" cy="504.8" r="2.3" fill="#0000d2" fill-opacity="0.72" stroke="#000098" stroke-opacity="0.7" stroke-width="0.6"/><circle cx="219.6" cy="508.1" r="2.3" fill="#0000d2" fill-opacity="0.72" stroke="#000098" stroke-opacity="0.7" stroke-width="0.6"/><circle cx="220.0" cy="510.4" r="2.3" fill="#0000d2" fill-opacity="0.72" stroke="#000098" stroke-opacity="0.7" stroke-width="0.6"/><circle cx="217.7" cy="512.8" r="2.3" fill="#0000d2" fill-opacity="0.72" stroke="#000098" stroke-opacity="0.7" stroke-width="0.6"/><circle cx="216.7" cy="515.1" r="2.3" fill="#0000d2" fill-opacity="0.72" stroke="#000098" stroke-opacity="0.7" stroke-width="0.6"/><circle cx="213.9" cy="488.0" r="2.3" fill="#0000d2" fill-opacity="0.72" stroke="#000098" stroke-opacity="0.7" stroke-width="0.6"/><circle cx="214.5" cy="490.7" r="2.3" fill="#0000d2" fill-opacity="0.72" stroke="#000098" stroke-opacity="0.7" stroke-width="0.6"/><circle cx="213.9" cy="493.4" r="2.3" fill="#0000d2" fill-opacity="0.72" stroke="#000098" stroke-opacity="0.7" stroke-width="0.6"/><circle cx="214.5" cy="496.1" r="2.3" fill="#0000d2" fill-opacity="0.72" stroke="#000098" stroke-opacity="0.7" stroke-width="0.6"/><circle cx="213.9" cy="498.8" r="2.3" fill="#0000d2" fill-opacity="0.72" stroke="#000098" stroke-opacity="0.7" stroke-width="0.6"/><circle cx="214.5" cy="501.5" r="2.3" fill="#0000d2" fill-opacity="0.72" stroke="#000098" stroke-opacity="0.7" stroke-width="0.6"/><circle cx="213.9" cy="504.2" r="2.3" fill="#0000d2" fill-opacity="0.72" stroke="#000098" stroke-opacity="0.7" stroke-width="0.6"/><circle cx="214.5" cy="506.9" r="2.3" fill="#0000d2" fill-opacity="0.72" stroke="#000098" stroke-opacity="0.7" stroke-width="0.6"/><circle cx="203.0" cy="519.0" r="2.3" fill="#0000d2" fill-opacity="0.72" stroke="#000098" stroke-opacity="0.7" stroke-width="0.6"/><circle cx="205.0" cy="523.5" r="2.3" fill="#0000d2" fill-opacity="0.72" stroke="#000098" stroke-opacity="0.7" stroke-width="0.6"/><circle cx="200.0" cy="525.0" r="2.3" fill="#0000d2" fill-opacity="0.72" stroke="#000098" stroke-opacity="0.7" stroke-width="0.6"/><circle cx="197.5" cy="521.0" r="2.3" fill="#0000d2" fill-opacity="0.72" stroke="#000098" stroke-opacity="0.7" stroke-width="0.6"/><circle cx="209.5" cy="508.0" r="2.3" fill="#0000d2" fill-opacity="0.72" stroke="#000098" stroke-opacity="0.7" stroke-width="0.6"/><circle cx="219.9" cy="510.6" r="2.3" fill="#0000d2" fill-opacity="0.72" stroke="#000098" stroke-opacity="0.7" stroke-width="0.6"/><circle cx="212.1" cy="514.2" r="2.3" fill="#0000d2" fill-opacity="0.72" stroke="#000098" stroke-opacity="0.7" stroke-width="0.6"/><circle cx="214.0" cy="514.6" r="2.3" fill="#0000d2" fill-opacity="0.72" stroke="#000098" stroke-opacity="0.7" stroke-width="0.6"/><circle cx="207.3" cy="500.6" r="2.3" fill="#0000d2" fill-opacity="0.72" stroke="#000098" stroke-opacity="0.7" stroke-width="0.6"/><circle cx="207.3" cy="502.6" r="2.3" fill="#0000d2" fill-opacity="0.72" stroke="#000098" stroke-opacity="0.7" stroke-width="0.6"/><circle cx="196.8" cy="512.9" r="2.3" fill="#0000d2" fill-opacity="0.72" stroke="#000098" stroke-opacity="0.7" stroke-width="0.6"/><circle cx="199.6" cy="512.5" r="2.3" fill="#0000d2" fill-opacity="0.72" stroke="#000098" stroke-opacity="0.7" stroke-width="0.6"/><circle cx="202.0" cy="512.0" r="2.3" fill="#0000d2" fill-opacity="0.72" stroke="#000098" stroke-opacity="0.7" stroke-width="0.6"/><circle cx="204.8" cy="510.6" r="2.3" fill="#0000d2" fill-opacity="0.72" stroke="#000098" stroke-opacity="0.7" stroke-width="0.6"/><circle cx="207.6" cy="512.9" r="2.3" fill="#0000d2" fill-opacity="0.72" stroke="#000098" stroke-opacity="0.7" stroke-width="0.6"/><circle cx="209.9" cy="513.9" r="2.3" fill="#0000d2" fill-opacity="0.72" stroke="#000098" stroke-opacity="0.7" stroke-width="0.6"/><circle cx="212.2" cy="514.2" r="2.3" fill="#0000d2" fill-opacity="0.72" stroke="#000098" stroke-opacity="0.7" stroke-width="0.6"/><circle cx="187.9" cy="526.0" r="2.3" fill="#0000d2" fill-opacity="0.72" stroke="#000098" stroke-opacity="0.7" stroke-width="0.6"/><circle cx="189.8" cy="523.7" r="2.3" fill="#0000d2" fill-opacity="0.72" stroke="#000098" stroke-opacity="0.7" stroke-width="0.6"/><circle cx="191.2" cy="521.4" r="2.3" fill="#0000d2" fill-opacity="0.72" stroke="#000098" stroke-opacity="0.7" stroke-width="0.6"/><circle cx="194.0" cy="519.0" r="2.3" fill="#0000d2" fill-opacity="0.72" stroke="#000098" stroke-opacity="0.7" stroke-width="0.6"/><circle cx="195.4" cy="517.1" r="2.3" fill="#0000d2" fill-opacity="0.72" stroke="#000098" stroke-opacity="0.7" stroke-width="0.6"/><circle cx="193.6" cy="522.8" r="2.3" fill="#0000d2" fill-opacity="0.72" stroke="#000098" stroke-opacity="0.7" stroke-width="0.6"/><circle cx="195.4" cy="524.6" r="2.3" fill="#0000d2" fill-opacity="0.72" stroke="#000098" stroke-opacity="0.7" stroke-width="0.6"/><circle cx="197.8" cy="523.7" r="2.3" fill="#0000d2" fill-opacity="0.72" stroke="#000098" stroke-opacity="0.7" stroke-width="0.6"/><circle cx="199.6" cy="521.8" r="2.3" fill="#0000d2" fill-opacity="0.72" stroke="#000098" stroke-opacity="0.7" stroke-width="0.6"/><circle cx="202.0" cy="522.8" r="2.3" fill="#0000d2" fill-opacity="0.72" stroke="#000098" stroke-opacity="0.7" stroke-width="0.6"/><circle cx="204.3" cy="520.9" r="2.3" fill="#0000d2" fill-opacity="0.72" stroke="#000098" stroke-opacity="0.7" stroke-width="0.6"/><circle cx="206.2" cy="518.6" r="2.3" fill="#0000d2" fill-opacity="0.72" stroke="#000098" stroke-opacity="0.7" stroke-width="0.6"/><circle cx="207.1" cy="521.4" r="2.3" fill="#0000d2" fill-opacity="0.72" stroke="#000098" stroke-opacity="0.7" stroke-width="0.6"/><circle cx="205.2" cy="522.8" r="2.3" fill="#0000d2" fill-opacity="0.72" stroke="#000098" stroke-opacity="0.7" stroke-width="0.6"/><circle cx="224.0" cy="498.7" r="2.3" fill="#0000d2" fill-opacity="0.72" stroke="#000098" stroke-opacity="0.7" stroke-width="0.6"/><circle cx="230.3" cy="497.8" r="2.3" fill="#0000d2" fill-opacity="0.72" stroke="#000098" stroke-opacity="0.7" stroke-width="0.6"/><circle cx="230.3" cy="499.7" r="2.3" fill="#0000d2" fill-opacity="0.72" stroke="#000098" stroke-opacity="0.7" stroke-width="0.6"/><circle cx="226.1" cy="503.9" r="2.3" fill="#0000d2" fill-opacity="0.72" stroke="#000098" stroke-opacity="0.7" stroke-width="0.6"/><circle cx="230.8" cy="505.0" r="2.3" fill="#0000d2" fill-opacity="0.72" stroke="#000098" stroke-opacity="0.7" stroke-width="0.6"/><circle cx="237.3" cy="502.9" r="2.3" fill="#0000d2" fill-opacity="0.72" stroke="#000098" stroke-opacity="0.7" stroke-width="0.6"/><circle cx="231.4" cy="468.4" r="2.3" fill="#0000d2" fill-opacity="0.72" stroke="#000098" stroke-opacity="0.7" stroke-width="0.6"/><circle cx="308.9" cy="405.7" r="2.3" fill="#0000d2" fill-opacity="0.72" stroke="#000098" stroke-opacity="0.7" stroke-width="0.6"/><circle cx="297.7" cy="433.7" r="2.3" fill="#0000d2" fill-opacity="0.72" stroke="#000098" stroke-opacity="0.7" stroke-width="0.6"/><circle cx="302.6" cy="448.4" r="2.3" fill="#0000d2" fill-opacity="0.72" stroke="#000098" stroke-opacity="0.7" stroke-width="0.6"/><circle cx="285.1" cy="455.4" r="2.3" fill="#0000d2" fill-opacity="0.72" stroke="#000098" stroke-opacity="0.7" stroke-width="0.6"/><circle cx="271.5" cy="466.9" r="2.3" fill="#0000d2" fill-opacity="0.72" stroke="#000098" stroke-opacity="0.7" stroke-width="0.6"/><circle cx="286.7" cy="466.4" r="2.3" fill="#0000d2" fill-opacity="0.72" stroke="#000098" stroke-opacity="0.7" stroke-width="0.6"/><circle cx="284.8" cy="475.8" r="2.3" fill="#0000d2" fill-opacity="0.72" stroke="#000098" stroke-opacity="0.7" stroke-width="0.6"/><circle cx="283.7" cy="480.4" r="2.3" fill="#0000d2" fill-opacity="0.72" stroke="#000098" stroke-opacity="0.7" stroke-width="0.6"/><circle cx="285.6" cy="482.8" r="2.3" fill="#0000d2" fill-opacity="0.72" stroke="#000098" stroke-opacity="0.7" stroke-width="0.6"/><circle cx="284.4" cy="486.3" r="2.3" fill="#0000d2" fill-opacity="0.72" stroke="#000098" stroke-opacity="0.7" stroke-width="0.6"/><circle cx="286.3" cy="488.6" r="2.3" fill="#0000d2" fill-opacity="0.72" stroke="#000098" stroke-opacity="0.7" stroke-width="0.6"/><circle cx="286.7" cy="491.7" r="2.3" fill="#0000d2" fill-opacity="0.72" stroke="#000098" stroke-opacity="0.7" stroke-width="0.6"/><circle cx="247.0" cy="483.5" r="2.3" fill="#0000d2" fill-opacity="0.72" stroke="#000098" stroke-opacity="0.7" stroke-width="0.6"/><circle cx="260.3" cy="486.3" r="2.3" fill="#0000d2" fill-opacity="0.72" stroke="#000098" stroke-opacity="0.7" stroke-width="0.6"/><circle cx="277.8" cy="487.5" r="2.3" fill="#0000d2" fill-opacity="0.72" stroke="#000098" stroke-opacity="0.7" stroke-width="0.6"/><circle cx="313.1" cy="486.3" r="2.3" fill="#0000d2" fill-opacity="0.72" stroke="#000098" stroke-opacity="0.7" stroke-width="0.6"/><circle cx="342.3" cy="475.8" r="2.3" fill="#0000d2" fill-opacity="0.72" stroke="#000098" stroke-opacity="0.7" stroke-width="0.6"/><circle cx="345.6" cy="473.4" r="2.3" fill="#0000d2" fill-opacity="0.72" stroke="#000098" stroke-opacity="0.7" stroke-width="0.6"/><circle cx="386.7" cy="456.4" r="2.3" fill="#0000d2" fill-opacity="0.72" stroke="#000098" stroke-opacity="0.7" stroke-width="0.6"/><circle cx="327.1" cy="513.1" r="2.3" fill="#0000d2" fill-opacity="0.72" stroke="#000098" stroke-opacity="0.7" stroke-width="0.6"/><line x1="189.00" y1="530.06" x2="386.94" y2="357.74" stroke="#c42c2c" stroke-width="1.75" stroke-dasharray="5.4 2.0"/><rect x="179.00" y="349.20" width="218.00" height="190.10" fill="none" stroke="#7a7a7a" stroke-width="1"/><line x1="205.50" y1="539.30" x2="205.50" y2="542.20" stroke="#555" stroke-width="0.9"/><text x="205.50" y="548.50" font-size="7.83" text-anchor="middle" fill="#2a2a2a" textLength="4.45" lengthAdjust="spacingAndGlyphs">1</text><line x1="238.49" y1="539.30" x2="238.49" y2="542.20" stroke="#555" stroke-width="0.9"/><text x="238.49" y="548.50" font-size="7.83" text-anchor="middle" fill="#2a2a2a" textLength="4.45" lengthAdjust="spacingAndGlyphs">2</text><line x1="271.48" y1="539.30" x2="271.48" y2="542.20" stroke="#555" stroke-width="0.9"/><text x="271.48" y="548.50" font-size="7.83" text-anchor="middle" fill="#2a2a2a" textLength="4.45" lengthAdjust="spacingAndGlyphs">3</text><line x1="304.47" y1="539.30" x2="304.47" y2="542.20" stroke="#555" stroke-width="0.9"/><text x="304.47" y="548.50" font-size="7.83" text-anchor="middle" fill="#2a2a2a" textLength="4.45" lengthAdjust="spacingAndGlyphs">4</text><line x1="337.46" y1="539.30" x2="337.46" y2="542.20" stroke="#555" stroke-width="0.9"/><text x="337.46" y="548.50" font-size="7.83" text-anchor="middle" fill="#2a2a2a" textLength="4.45" lengthAdjust="spacingAndGlyphs">5</text><line x1="370.45" y1="539.30" x2="370.45" y2="542.20" stroke="#555" stroke-width="0.9"/><text x="370.45" y="548.50" font-size="7.83" text-anchor="middle" fill="#2a2a2a" textLength="4.45" lengthAdjust="spacingAndGlyphs">6</text><line x1="176.10" y1="515.70" x2="179.00" y2="515.70" stroke="#555" stroke-width="0.9"/><text x="174.10" y="518.45" font-size="7.83" text-anchor="end" fill="#2a2a2a" textLength="4.45" lengthAdjust="spacingAndGlyphs">1</text><line x1="176.10" y1="486.98" x2="179.00" y2="486.98" stroke="#555" stroke-width="0.9"/><text x="174.10" y="489.73" font-size="7.83" text-anchor="end" fill="#2a2a2a" textLength="4.45" lengthAdjust="spacingAndGlyphs">2</text><line x1="176.10" y1="458.26" x2="179.00" y2="458.26" stroke="#555" stroke-width="0.9"/><text x="174.10" y="461.01" font-size="7.83" text-anchor="end" fill="#2a2a2a" textLength="4.45" lengthAdjust="spacingAndGlyphs">3</text><line x1="176.10" y1="429.54" x2="179.00" y2="429.54" stroke="#555" stroke-width="0.9"/><text x="174.10" y="432.29" font-size="7.83" text-anchor="end" fill="#2a2a2a" textLength="4.45" lengthAdjust="spacingAndGlyphs">4</text><line x1="176.10" y1="400.82" x2="179.00" y2="400.82" stroke="#555" stroke-width="0.9"/><text x="174.10" y="403.57" font-size="7.83" text-anchor="end" fill="#2a2a2a" textLength="4.45" lengthAdjust="spacingAndGlyphs">5</text><line x1="176.10" y1="372.10" x2="179.00" y2="372.10" stroke="#555" stroke-width="0.9"/><text x="174.10" y="374.85" font-size="7.83" text-anchor="end" fill="#2a2a2a" textLength="4.45" lengthAdjust="spacingAndGlyphs">6</text><text x="288.00" y="559.90" font-size="8.88" text-anchor="middle" fill="#2a2a2a" textLength="52.00" lengthAdjust="spacingAndGlyphs">Actual Value</text><text x="0" y="0" font-size="8.88" text-anchor="middle" fill="#2a2a2a" textLength="65.8" lengthAdjust="spacingAndGlyphs" transform="translate(166.20,444.25) rotate(-90)">Predicted Value</text><text x="288.00" y="334.40" font-size="10.24" text-anchor="middle" fill="#2a2a2a" textLength="19.73" lengthAdjust="spacingAndGlyphs">SVR</text><text x="264.20" y="345.30" font-size="10.24" font-style="italic" fill="#2a2a2a" textLength="6.0" lengthAdjust="spacingAndGlyphs">R</text><text x="271.30" y="341.20" font-size="7.37" fill="#2a2a2a" textLength="3.9" lengthAdjust="spacingAndGlyphs">2</text><text x="279.50" y="345.30" font-size="10.24" fill="#2a2a2a" textLength="7.0" lengthAdjust="spacingAndGlyphs">=</text><text x="291.40" y="345.30" font-size="10.24" fill="#2a2a2a" textLength="20.6" lengthAdjust="spacingAndGlyphs">0.57</text><rect x="182.60" y="352.20" width="94.3" height="23.8" rx="1.5" fill="#fff" fill-opacity="0.8" stroke="#d9d9d9" stroke-width="0.8"/><circle cx="192.50" cy="358.90" r="2.3" fill="#0000d2" fill-opacity="0.72" stroke="#000098" stroke-opacity="0.7" stroke-width="0.6"/><line x1="185.30" y1="368.60" x2="198.40" y2="368.60" stroke="#c42c2c" stroke-width="1.75" stroke-dasharray="5.6 2.1"/><text x="205.70" y="361.00" font-size="7.31" text-anchor="start" fill="#2a2a2a" textLength="66.60" lengthAdjust="spacingAndGlyphs">Predicted vs Actual</text><text x="205.70" y="371.60" font-size="7.31" text-anchor="start" fill="#2a2a2a" textLength="27.48" lengthAdjust="spacingAndGlyphs">Ideal Fit</text></g><g><circle cx="492.7" cy="448.0" r="2.3" fill="#0000d2" fill-opacity="0.72" stroke="#000098" stroke-opacity="0.7" stroke-width="0.6"/><circle cx="492.7" cy="450.9" r="2.3" fill="#0000d2" fill-opacity="0.72" stroke="#000098" stroke-opacity="0.7" stroke-width="0.6"/><circle cx="492.7" cy="453.9" r="2.3" fill="#0000d2" fill-opacity="0.72" stroke="#000098" stroke-opacity="0.7" stroke-width="0.6"/><circle cx="492.7" cy="457.5" r="2.3" fill="#0000d2" fill-opacity="0.72" stroke="#000098" stroke-opacity="0.7" stroke-width="0.6"/><circle cx="492.7" cy="460.4" r="2.3" fill="#0000d2" fill-opacity="0.72" stroke="#000098" stroke-opacity="0.7" stroke-width="0.6"/><circle cx="492.7" cy="469.2" r="2.3" fill="#0000d2" fill-opacity="0.72" stroke="#000098" stroke-opacity="0.7" stroke-width="0.6"/><circle cx="492.7" cy="477.2" r="2.3" fill="#0000d2" fill-opacity="0.72" stroke="#000098" stroke-opacity="0.7" stroke-width="0.6"/><circle cx="492.7" cy="478.7" r="2.3" fill="#0000d2" fill-opacity="0.72" stroke="#000098" stroke-opacity="0.7" stroke-width="0.6"/><circle cx="495.0" cy="486.7" r="2.3" fill="#0000d2" fill-opacity="0.72" stroke="#000098" stroke-opacity="0.7" stroke-width="0.6"/><circle cx="492.7" cy="492.6" r="2.3" fill="#0000d2" fill-opacity="0.72" stroke="#000098" stroke-opacity="0.7" stroke-width="0.6"/><circle cx="495.0" cy="494.0" r="2.3" fill="#0000d2" fill-opacity="0.72" stroke="#000098" stroke-opacity="0.7" stroke-width="0.6"/><circle cx="494.6" cy="495.5" r="2.3" fill="#0000d2" fill-opacity="0.72" stroke="#000098" stroke-opacity="0.7" stroke-width="0.6"/><circle cx="505.6" cy="466.3" r="2.3" fill="#0000d2" fill-opacity="0.72" stroke="#000098" stroke-opacity="0.7" stroke-width="0.6"/><circle cx="506.3" cy="467.0" r="2.3" fill="#0000d2" fill-opacity="0.72" stroke="#000098" stroke-opacity="0.7" stroke-width="0.6"/><circle cx="521.6" cy="466.3" r="2.3" fill="#0000d2" fill-opacity="0.72" stroke="#000098" stroke-opacity="0.7" stroke-width="0.6"/><circle cx="535.0" cy="473.9" r="2.3" fill="#0000d2" fill-opacity="0.72" stroke="#000098" stroke-opacity="0.7" stroke-width="0.6"/><circle cx="504.1" cy="492.8" r="2.3" fill="#0000d2" fill-opacity="0.72" stroke="#000098" stroke-opacity="0.7" stroke-width="0.6"/><circle cx="504.8" cy="493.7" r="2.3" fill="#0000d2" fill-opacity="0.72" stroke="#000098" stroke-opacity="0.7" stroke-width="0.6"/><circle cx="488.0" cy="494.3" r="2.3" fill="#0000d2" fill-opacity="0.72" stroke="#000098" stroke-opacity="0.7" stroke-width="0.6"/><circle cx="501.2" cy="502.8" r="2.3" fill="#0000d2" fill-opacity="0.72" stroke="#000098" stroke-opacity="0.7" stroke-width="0.6"/><circle cx="512.6" cy="506.4" r="2.3" fill="#0000d2" fill-opacity="0.72" stroke="#000098" stroke-opacity="0.7" stroke-width="0.6"/><circle cx="492.4" cy="499.9" r="2.3" fill="#0000d2" fill-opacity="0.72" stroke="#000098" stroke-opacity="0.7" stroke-width="0.6"/><circle cx="493.9" cy="501.3" r="2.3" fill="#0000d2" fill-opacity="0.72" stroke="#000098" stroke-opacity="0.7" stroke-width="0.6"/><circle cx="491.0" cy="502.8" r="2.3" fill="#0000d2" fill-opacity="0.72" stroke="#000098" stroke-opacity="0.7" stroke-width="0.6"/><circle cx="488.8" cy="504.2" r="2.3" fill="#0000d2" fill-opacity="0.72" stroke="#000098" stroke-opacity="0.7" stroke-width="0.6"/><circle cx="487.3" cy="506.4" r="2.3" fill="#0000d2" fill-opacity="0.72" stroke="#000098" stroke-opacity="0.7" stroke-width="0.6"/><circle cx="489.5" cy="507.2" r="2.3" fill="#0000d2" fill-opacity="0.72" stroke="#000098" stroke-opacity="0.7" stroke-width="0.6"/><circle cx="491.7" cy="505.7" r="2.3" fill="#0000d2" fill-opacity="0.72" stroke="#000098" stroke-opacity="0.7" stroke-width="0.6"/><circle cx="474.9" cy="507.9" r="2.3" fill="#0000d2" fill-opacity="0.72" stroke="#000098" stroke-opacity="0.7" stroke-width="0.6"/><circle cx="478.5" cy="508.6" r="2.3" fill="#0000d2" fill-opacity="0.72" stroke="#000098" stroke-opacity="0.7" stroke-width="0.6"/><circle cx="481.5" cy="510.1" r="2.3" fill="#0000d2" fill-opacity="0.72" stroke="#000098" stroke-opacity="0.7" stroke-width="0.6"/><circle cx="482.9" cy="508.6" r="2.3" fill="#0000d2" fill-opacity="0.72" stroke="#000098" stroke-opacity="0.7" stroke-width="0.6"/><circle cx="471.7" cy="512.0" r="2.3" fill="#0000d2" fill-opacity="0.72" stroke="#000098" stroke-opacity="0.7" stroke-width="0.6"/><circle cx="498.5" cy="512.3" r="2.3" fill="#0000d2" fill-opacity="0.72" stroke="#000098" stroke-opacity="0.7" stroke-width="0.6"/><circle cx="479.3" cy="513.0" r="2.3" fill="#0000d2" fill-opacity="0.72" stroke="#000098" stroke-opacity="0.7" stroke-width="0.6"/><circle cx="480.7" cy="514.5" r="2.3" fill="#0000d2" fill-opacity="0.72" stroke="#000098" stroke-opacity="0.7" stroke-width="0.6"/><circle cx="482.2" cy="512.3" r="2.3" fill="#0000d2" fill-opacity="0.72" stroke="#000098" stroke-opacity="0.7" stroke-width="0.6"/><circle cx="478.5" cy="515.9" r="2.3" fill="#0000d2" fill-opacity="0.72" stroke="#000098" stroke-opacity="0.7" stroke-width="0.6"/><circle cx="481.5" cy="516.6" r="2.3" fill="#0000d2" fill-opacity="0.72" stroke="#000098" stroke-opacity="0.7" stroke-width="0.6"/><circle cx="488.0" cy="513.7" r="2.3" fill="#0000d2" fill-opacity="0.72" stroke="#000098" stroke-opacity="0.7" stroke-width="0.6"/><circle cx="491.0" cy="513.0" r="2.3" fill="#0000d2" fill-opacity="0.72" stroke="#000098" stroke-opacity="0.7" stroke-width="0.6"/><circle cx="491.7" cy="515.9" r="2.3" fill="#0000d2" fill-opacity="0.72" stroke="#000098" stroke-opacity="0.7" stroke-width="0.6"/><circle cx="490.2" cy="511.5" r="2.3" fill="#0000d2" fill-opacity="0.72" stroke="#000098" stroke-opacity="0.7" stroke-width="0.6"/><circle cx="477.1" cy="519.6" r="2.3" fill="#0000d2" fill-opacity="0.72" stroke="#000098" stroke-opacity="0.7" stroke-width="0.6"/><circle cx="479.3" cy="521.8" r="2.3" fill="#0000d2" fill-opacity="0.72" stroke="#000098" stroke-opacity="0.7" stroke-width="0.6"/><circle cx="480.7" cy="518.8" r="2.3" fill="#0000d2" fill-opacity="0.72" stroke="#000098" stroke-opacity="0.7" stroke-width="0.6"/><circle cx="470.5" cy="522.5" r="2.3" fill="#0000d2" fill-opacity="0.72" stroke="#000098" stroke-opacity="0.7" stroke-width="0.6"/><circle cx="473.4" cy="525.8" r="2.3" fill="#0000d2" fill-opacity="0.72" stroke="#000098" stroke-opacity="0.7" stroke-width="0.6"/><circle cx="480.0" cy="524.7" r="2.3" fill="#0000d2" fill-opacity="0.72" stroke="#000098" stroke-opacity="0.7" stroke-width="0.6"/><circle cx="468.3" cy="524.7" r="2.3" fill="#0000d2" fill-opacity="0.72" stroke="#000098" stroke-opacity="0.7" stroke-width="0.6"/><circle cx="469.1" cy="527.6" r="2.3" fill="#0000d2" fill-opacity="0.72" stroke="#000098" stroke-opacity="0.7" stroke-width="0.6"/><circle cx="467.6" cy="529.1" r="2.3" fill="#0000d2" fill-opacity="0.72" stroke="#000098" stroke-opacity="0.7" stroke-width="0.6"/><circle cx="463.2" cy="529.1" r="2.3" fill="#0000d2" fill-opacity="0.72" stroke="#000098" stroke-opacity="0.7" stroke-width="0.6"/><circle cx="464.7" cy="530.2" r="2.3" fill="#0000d2" fill-opacity="0.72" stroke="#000098" stroke-opacity="0.7" stroke-width="0.6"/><circle cx="558.7" cy="441.4" r="2.3" fill="#0000d2" fill-opacity="0.72" stroke="#000098" stroke-opacity="0.7" stroke-width="0.6"/><circle cx="578.0" cy="443.8" r="2.3" fill="#0000d2" fill-opacity="0.72" stroke="#000098" stroke-opacity="0.7" stroke-width="0.6"/><circle cx="584.9" cy="437.1" r="2.3" fill="#0000d2" fill-opacity="0.72" stroke="#000098" stroke-opacity="0.7" stroke-width="0.6"/><circle cx="584.9" cy="442.4" r="2.3" fill="#0000d2" fill-opacity="0.72" stroke="#000098" stroke-opacity="0.7" stroke-width="0.6"/><circle cx="585.7" cy="444.3" r="2.3" fill="#0000d2" fill-opacity="0.72" stroke="#000098" stroke-opacity="0.7" stroke-width="0.6"/><circle cx="588.9" cy="444.9" r="2.3" fill="#0000d2" fill-opacity="0.72" stroke="#000098" stroke-opacity="0.7" stroke-width="0.6"/><circle cx="584.9" cy="450.8" r="2.3" fill="#0000d2" fill-opacity="0.72" stroke="#000098" stroke-opacity="0.7" stroke-width="0.6"/><circle cx="584.9" cy="464.6" r="2.3" fill="#0000d2" fill-opacity="0.72" stroke="#000098" stroke-opacity="0.7" stroke-width="0.6"/><circle cx="552.8" cy="466.0" r="2.3" fill="#0000d2" fill-opacity="0.72" stroke="#000098" stroke-opacity="0.7" stroke-width="0.6"/><circle cx="552.8" cy="467.0" r="2.3" fill="#0000d2" fill-opacity="0.72" stroke="#000098" stroke-opacity="0.7" stroke-width="0.6"/><circle cx="560.3" cy="468.0" r="2.3" fill="#0000d2" fill-opacity="0.72" stroke="#000098" stroke-opacity="0.7" stroke-width="0.6"/><circle cx="553.4" cy="474.5" r="2.3" fill="#0000d2" fill-opacity="0.72" stroke="#000098" stroke-opacity="0.7" stroke-width="0.6"/><circle cx="553.4" cy="478.4" r="2.3" fill="#0000d2" fill-opacity="0.72" stroke="#000098" stroke-opacity="0.7" stroke-width="0.6"/><circle cx="552.8" cy="479.4" r="2.3" fill="#0000d2" fill-opacity="0.72" stroke="#000098" stroke-opacity="0.7" stroke-width="0.6"/><circle cx="546.5" cy="480.8" r="2.3" fill="#0000d2" fill-opacity="0.72" stroke="#000098" stroke-opacity="0.7" stroke-width="0.6"/><circle cx="559.7" cy="479.4" r="2.3" fill="#0000d2" fill-opacity="0.72" stroke="#000098" stroke-opacity="0.7" stroke-width="0.6"/><circle cx="561.7" cy="492.2" r="2.3" fill="#0000d2" fill-opacity="0.72" stroke="#000098" stroke-opacity="0.7" stroke-width="0.6"/><circle cx="573.1" cy="500.1" r="2.3" fill="#0000d2" fill-opacity="0.72" stroke="#000098" stroke-opacity="0.7" stroke-width="0.6"/><circle cx="603.1" cy="522.6" r="2.3" fill="#0000d2" fill-opacity="0.72" stroke="#000098" stroke-opacity="0.7" stroke-width="0.6"/><circle cx="618.4" cy="469.4" r="2.3" fill="#0000d2" fill-opacity="0.72" stroke="#000098" stroke-opacity="0.7" stroke-width="0.6"/><circle cx="621.2" cy="467.6" r="2.3" fill="#0000d2" fill-opacity="0.72" stroke="#000098" stroke-opacity="0.7" stroke-width="0.6"/><circle cx="663.2" cy="467.0" r="2.3" fill="#0000d2" fill-opacity="0.72" stroke="#000098" stroke-opacity="0.7" stroke-width="0.6"/><circle cx="663.2" cy="470.0" r="2.3" fill="#0000d2" fill-opacity="0.72" stroke="#000098" stroke-opacity="0.7" stroke-width="0.6"/><circle cx="663.2" cy="474.5" r="2.3" fill="#0000d2" fill-opacity="0.72" stroke="#000098" stroke-opacity="0.7" stroke-width="0.6"/><circle cx="663.2" cy="475.3" r="2.3" fill="#0000d2" fill-opacity="0.72" stroke="#000098" stroke-opacity="0.7" stroke-width="0.6"/><circle cx="663.2" cy="499.5" r="2.3" fill="#0000d2" fill-opacity="0.72" stroke="#000098" stroke-opacity="0.7" stroke-width="0.6"/><line x1="463.35" y1="531.98" x2="663.15" y2="357.07" stroke="#c42c2c" stroke-width="1.75" stroke-dasharray="5.4 2.0"/><rect x="453.10" y="348.60" width="220.20" height="192.20" fill="none" stroke="#7a7a7a" stroke-width="1"/><line x1="480.00" y1="540.80" x2="480.00" y2="543.70" stroke="#555" stroke-width="0.9"/><text x="480.00" y="551.00" font-size="7.83" text-anchor="middle" fill="#2a2a2a" textLength="4.45" lengthAdjust="spacingAndGlyphs">1</text><line x1="513.30" y1="540.80" x2="513.30" y2="543.70" stroke="#555" stroke-width="0.9"/><text x="513.30" y="551.00" font-size="7.83" text-anchor="middle" fill="#2a2a2a" textLength="4.45" lengthAdjust="spacingAndGlyphs">2</text><line x1="546.60" y1="540.80" x2="546.60" y2="543.70" stroke="#555" stroke-width="0.9"/><text x="546.60" y="551.00" font-size="7.83" text-anchor="middle" fill="#2a2a2a" textLength="4.45" lengthAdjust="spacingAndGlyphs">3</text><line x1="579.90" y1="540.80" x2="579.90" y2="543.70" stroke="#555" stroke-width="0.9"/><text x="579.90" y="551.00" font-size="7.83" text-anchor="middle" fill="#2a2a2a" textLength="4.45" lengthAdjust="spacingAndGlyphs">4</text><line x1="613.20" y1="540.80" x2="613.20" y2="543.70" stroke="#555" stroke-width="0.9"/><text x="613.20" y="551.00" font-size="7.83" text-anchor="middle" fill="#2a2a2a" textLength="4.45" lengthAdjust="spacingAndGlyphs">5</text><line x1="646.50" y1="540.80" x2="646.50" y2="543.70" stroke="#555" stroke-width="0.9"/><text x="646.50" y="551.00" font-size="7.83" text-anchor="middle" fill="#2a2a2a" textLength="4.45" lengthAdjust="spacingAndGlyphs">6</text><line x1="450.20" y1="517.40" x2="453.10" y2="517.40" stroke="#555" stroke-width="0.9"/><text x="448.20" y="520.15" font-size="7.83" text-anchor="end" fill="#2a2a2a" textLength="4.45" lengthAdjust="spacingAndGlyphs">1</text><line x1="450.20" y1="488.25" x2="453.10" y2="488.25" stroke="#555" stroke-width="0.9"/><text x="448.20" y="491.00" font-size="7.83" text-anchor="end" fill="#2a2a2a" textLength="4.45" lengthAdjust="spacingAndGlyphs">2</text><line x1="450.20" y1="459.10" x2="453.10" y2="459.10" stroke="#555" stroke-width="0.9"/><text x="448.20" y="461.85" font-size="7.83" text-anchor="end" fill="#2a2a2a" textLength="4.45" lengthAdjust="spacingAndGlyphs">3</text><line x1="450.20" y1="429.95" x2="453.10" y2="429.95" stroke="#555" stroke-width="0.9"/><text x="448.20" y="432.70" font-size="7.83" text-anchor="end" fill="#2a2a2a" textLength="4.45" lengthAdjust="spacingAndGlyphs">4</text><line x1="450.20" y1="400.80" x2="453.10" y2="400.80" stroke="#555" stroke-width="0.9"/><text x="448.20" y="403.55" font-size="7.83" text-anchor="end" fill="#2a2a2a" textLength="4.45" lengthAdjust="spacingAndGlyphs">5</text><line x1="450.20" y1="371.65" x2="453.10" y2="371.65" stroke="#555" stroke-width="0.9"/><text x="448.20" y="374.40" font-size="7.83" text-anchor="end" fill="#2a2a2a" textLength="4.45" lengthAdjust="spacingAndGlyphs">6</text><text x="563.20" y="562.40" font-size="8.88" text-anchor="middle" fill="#2a2a2a" textLength="53.00" lengthAdjust="spacingAndGlyphs">Actual Value</text><text x="0" y="0" font-size="8.88" text-anchor="middle" fill="#2a2a2a" textLength="65.8" lengthAdjust="spacingAndGlyphs" transform="translate(439.90,444.70) rotate(-90)">Predicted Value</text><text x="563.20" y="333.40" font-size="10.24" text-anchor="middle" fill="#2a2a2a" textLength="70.65" lengthAdjust="spacingAndGlyphs">RandomForest</text><text x="539.40" y="344.60" font-size="10.24" font-style="italic" fill="#2a2a2a" textLength="6.0" lengthAdjust="spacingAndGlyphs">R</text><text x="546.50" y="340.50" font-size="7.37" fill="#2a2a2a" textLength="3.9" lengthAdjust="spacingAndGlyphs">2</text><text x="554.70" y="344.60" font-size="10.24" fill="#2a2a2a" textLength="7.0" lengthAdjust="spacingAndGlyphs">=</text><text x="566.60" y="344.60" font-size="10.24" fill="#2a2a2a" textLength="20.6" lengthAdjust="spacingAndGlyphs">0.63</text><rect x="456.70" y="351.60" width="94.3" height="23.8" rx="1.5" fill="#fff" fill-opacity="0.8" stroke="#d9d9d9" stroke-width="0.8"/><circle cx="466.60" cy="358.30" r="2.3" fill="#0000d2" fill-opacity="0.72" stroke="#000098" stroke-opacity="0.7" stroke-width="0.6"/><line x1="459.40" y1="368.00" x2="472.50" y2="368.00" stroke="#c42c2c" stroke-width="1.75" stroke-dasharray="5.6 2.1"/><text x="479.80" y="360.40" font-size="7.31" text-anchor="start" fill="#2a2a2a" textLength="66.60" lengthAdjust="spacingAndGlyphs">Predicted vs Actual</text><text x="479.80" y="371.00" font-size="7.31" text-anchor="start" fill="#2a2a2a" textLength="27.48" lengthAdjust="spacingAndGlyphs">Ideal Fit</text></g><g><circle cx="186.3" cy="736.6" r="2.3" fill="#0000d2" fill-opacity="0.72" stroke="#000098" stroke-opacity="0.7" stroke-width="0.6"/><circle cx="186.3" cy="748.2" r="2.3" fill="#0000d2" fill-opacity="0.72" stroke="#000098" stroke-opacity="0.7" stroke-width="0.6"/><circle cx="186.3" cy="749.9" r="2.3" fill="#0000d2" fill-opacity="0.72" stroke="#000098" stroke-opacity="0.7" stroke-width="0.6"/><circle cx="186.3" cy="755.7" r="2.3" fill="#0000d2" fill-opacity="0.72" stroke="#000098" stroke-opacity="0.7" stroke-width="0.6"/><circle cx="221.3" cy="719.9" r="2.3" fill="#0000d2" fill-opacity="0.72" stroke="#000098" stroke-opacity="0.7" stroke-width="0.6"/><circle cx="221.3" cy="724.1" r="2.3" fill="#0000d2" fill-opacity="0.72" stroke="#000098" stroke-opacity="0.7" stroke-width="0.6"/><circle cx="216.8" cy="728.2" r="2.3" fill="#0000d2" fill-opacity="0.72" stroke="#000098" stroke-opacity="0.7" stroke-width="0.6"/><circle cx="219.3" cy="728.6" r="2.3" fill="#0000d2" fill-opacity="0.72" stroke="#000098" stroke-opacity="0.7" stroke-width="0.6"/><circle cx="221.3" cy="728.6" r="2.3" fill="#0000d2" fill-opacity="0.72" stroke="#000098" stroke-opacity="0.7" stroke-width="0.6"/><circle cx="223.4" cy="727.4" r="2.3" fill="#0000d2" fill-opacity="0.72" stroke="#000098" stroke-opacity="0.7" stroke-width="0.6"/><circle cx="226.8" cy="728.2" r="2.3" fill="#0000d2" fill-opacity="0.72" stroke="#000098" stroke-opacity="0.7" stroke-width="0.6"/><circle cx="218.9" cy="732.9" r="2.3" fill="#0000d2" fill-opacity="0.72" stroke="#000098" stroke-opacity="0.7" stroke-width="0.6"/><circle cx="225.9" cy="734.6" r="2.3" fill="#0000d2" fill-opacity="0.72" stroke="#000098" stroke-opacity="0.7" stroke-width="0.6"/><circle cx="226.8" cy="736.6" r="2.3" fill="#0000d2" fill-opacity="0.72" stroke="#000098" stroke-opacity="0.7" stroke-width="0.6"/><circle cx="225.6" cy="743.2" r="2.3" fill="#0000d2" fill-opacity="0.72" stroke="#000098" stroke-opacity="0.7" stroke-width="0.6"/><circle cx="232.9" cy="744.0" r="2.3" fill="#0000d2" fill-opacity="0.72" stroke="#000098" stroke-opacity="0.7" stroke-width="0.6"/><circle cx="245.6" cy="695.4" r="2.3" fill="#0000d2" fill-opacity="0.72" stroke="#000098" stroke-opacity="0.7" stroke-width="0.6"/><circle cx="243.7" cy="702.9" r="2.3" fill="#0000d2" fill-opacity="0.72" stroke="#000098" stroke-opacity="0.7" stroke-width="0.6"/><circle cx="249.7" cy="706.6" r="2.3" fill="#0000d2" fill-opacity="0.72" stroke="#000098" stroke-opacity="0.7" stroke-width="0.6"/><circle cx="250.9" cy="712.9" r="2.3" fill="#0000d2" fill-opacity="0.72" stroke="#000098" stroke-opacity="0.7" stroke-width="0.6"/><circle cx="240.9" cy="719.6" r="2.3" fill="#0000d2" fill-opacity="0.72" stroke="#000098" stroke-opacity="0.7" stroke-width="0.6"/><circle cx="243.4" cy="719.1" r="2.3" fill="#0000d2" fill-opacity="0.72" stroke="#000098" stroke-opacity="0.7" stroke-width="0.6"/><circle cx="245.9" cy="717.4" r="2.3" fill="#0000d2" fill-opacity="0.72" stroke="#000098" stroke-opacity="0.7" stroke-width="0.6"/><circle cx="248.4" cy="716.6" r="2.3" fill="#0000d2" fill-opacity="0.72" stroke="#000098" stroke-opacity="0.7" stroke-width="0.6"/><circle cx="244.2" cy="722.4" r="2.3" fill="#0000d2" fill-opacity="0.72" stroke="#000098" stroke-opacity="0.7" stroke-width="0.6"/><circle cx="246.7" cy="724.1" r="2.3" fill="#0000d2" fill-opacity="0.72" stroke="#000098" stroke-opacity="0.7" stroke-width="0.6"/><circle cx="249.2" cy="724.9" r="2.3" fill="#0000d2" fill-opacity="0.72" stroke="#000098" stroke-opacity="0.7" stroke-width="0.6"/><circle cx="244.2" cy="725.7" r="2.3" fill="#0000d2" fill-opacity="0.72" stroke="#000098" stroke-opacity="0.7" stroke-width="0.6"/><circle cx="246.7" cy="727.4" r="2.3" fill="#0000d2" fill-opacity="0.72" stroke="#000098" stroke-opacity="0.7" stroke-width="0.6"/><circle cx="250.1" cy="728.2" r="2.3" fill="#0000d2" fill-opacity="0.72" stroke="#000098" stroke-opacity="0.7" stroke-width="0.6"/><circle cx="245.9" cy="729.9" r="2.3" fill="#0000d2" fill-opacity="0.72" stroke="#000098" stroke-opacity="0.7" stroke-width="0.6"/><circle cx="248.4" cy="730.7" r="2.3" fill="#0000d2" fill-opacity="0.72" stroke="#000098" stroke-opacity="0.7" stroke-width="0.6"/><circle cx="252.6" cy="728.2" r="2.3" fill="#0000d2" fill-opacity="0.72" stroke="#000098" stroke-opacity="0.7" stroke-width="0.6"/><circle cx="251.7" cy="731.6" r="2.3" fill="#0000d2" fill-opacity="0.72" stroke="#000098" stroke-opacity="0.7" stroke-width="0.6"/><circle cx="243.9" cy="734.1" r="2.3" fill="#0000d2" fill-opacity="0.72" stroke="#000098" stroke-opacity="0.7" stroke-width="0.6"/><circle cx="256.4" cy="717.4" r="2.3" fill="#0000d2" fill-opacity="0.72" stroke="#000098" stroke-opacity="0.7" stroke-width="0.6"/><circle cx="258.4" cy="718.2" r="2.3" fill="#0000d2" fill-opacity="0.72" stroke="#000098" stroke-opacity="0.7" stroke-width="0.6"/><circle cx="260.9" cy="719.1" r="2.3" fill="#0000d2" fill-opacity="0.72" stroke="#000098" stroke-opacity="0.7" stroke-width="0.6"/><circle cx="258.9" cy="720.7" r="2.3" fill="#0000d2" fill-opacity="0.72" stroke="#000098" stroke-opacity="0.7" stroke-width="0.6"/><circle cx="261.7" cy="719.9" r="2.3" fill="#0000d2" fill-opacity="0.72" stroke="#000098" stroke-opacity="0.7" stroke-width="0.6"/><circle cx="260.9" cy="726.6" r="2.3" fill="#0000d2" fill-opacity="0.72" stroke="#000098" stroke-opacity="0.7" stroke-width="0.6"/><circle cx="260.9" cy="727.4" r="2.3" fill="#0000d2" fill-opacity="0.72" stroke="#000098" stroke-opacity="0.7" stroke-width="0.6"/><circle cx="260.5" cy="699.9" r="2.3" fill="#0000d2" fill-opacity="0.72" stroke="#000098" stroke-opacity="0.7" stroke-width="0.6"/><circle cx="265.5" cy="696.6" r="2.3" fill="#0000d2" fill-opacity="0.72" stroke="#000098" stroke-opacity="0.7" stroke-width="0.6"/><circle cx="261.7" cy="742.9" r="2.3" fill="#0000d2" fill-opacity="0.72" stroke="#000098" stroke-opacity="0.7" stroke-width="0.6"/><circle cx="263.9" cy="751.5" r="2.3" fill="#0000d2" fill-opacity="0.72" stroke="#000098" stroke-opacity="0.7" stroke-width="0.6"/><circle cx="268.9" cy="685.8" r="2.3" fill="#0000d2" fill-opacity="0.72" stroke="#000098" stroke-opacity="0.7" stroke-width="0.6"/><circle cx="268.4" cy="717.4" r="2.3" fill="#0000d2" fill-opacity="0.72" stroke="#000098" stroke-opacity="0.7" stroke-width="0.6"/><circle cx="270.9" cy="714.9" r="2.3" fill="#0000d2" fill-opacity="0.72" stroke="#000098" stroke-opacity="0.7" stroke-width="0.6"/><circle cx="272.5" cy="719.9" r="2.3" fill="#0000d2" fill-opacity="0.72" stroke="#000098" stroke-opacity="0.7" stroke-width="0.6"/><circle cx="272.2" cy="724.1" r="2.3" fill="#0000d2" fill-opacity="0.72" stroke="#000098" stroke-opacity="0.7" stroke-width="0.6"/><circle cx="272.5" cy="726.6" r="2.3" fill="#0000d2" fill-opacity="0.72" stroke="#000098" stroke-opacity="0.7" stroke-width="0.6"/><circle cx="272.5" cy="729.9" r="2.3" fill="#0000d2" fill-opacity="0.72" stroke="#000098" stroke-opacity="0.7" stroke-width="0.6"/><circle cx="272.5" cy="731.6" r="2.3" fill="#0000d2" fill-opacity="0.72" stroke="#000098" stroke-opacity="0.7" stroke-width="0.6"/><circle cx="270.5" cy="743.2" r="2.3" fill="#0000d2" fill-opacity="0.72" stroke="#000098" stroke-opacity="0.7" stroke-width="0.6"/><circle cx="271.7" cy="740.7" r="2.3" fill="#0000d2" fill-opacity="0.72" stroke="#000098" stroke-opacity="0.7" stroke-width="0.6"/><circle cx="276.7" cy="742.9" r="2.3" fill="#0000d2" fill-opacity="0.72" stroke="#000098" stroke-opacity="0.7" stroke-width="0.6"/><circle cx="277.8" cy="665.8" r="2.3" fill="#0000d2" fill-opacity="0.72" stroke="#000098" stroke-opacity="0.7" stroke-width="0.6"/><circle cx="277.5" cy="676.6" r="2.3" fill="#0000d2" fill-opacity="0.72" stroke="#000098" stroke-opacity="0.7" stroke-width="0.6"/><circle cx="277.5" cy="679.1" r="2.3" fill="#0000d2" fill-opacity="0.72" stroke="#000098" stroke-opacity="0.7" stroke-width="0.6"/><circle cx="276.7" cy="681.6" r="2.3" fill="#0000d2" fill-opacity="0.72" stroke="#000098" stroke-opacity="0.7" stroke-width="0.6"/><circle cx="277.5" cy="690.8" r="2.3" fill="#0000d2" fill-opacity="0.72" stroke="#000098" stroke-opacity="0.7" stroke-width="0.6"/><circle cx="277.5" cy="694.9" r="2.3" fill="#0000d2" fill-opacity="0.72" stroke="#000098" stroke-opacity="0.7" stroke-width="0.6"/><circle cx="276.7" cy="699.9" r="2.3" fill="#0000d2" fill-opacity="0.72" stroke="#000098" stroke-opacity="0.7" stroke-width="0.6"/><circle cx="280.8" cy="699.1" r="2.3" fill="#0000d2" fill-opacity="0.72" stroke="#000098" stroke-opacity="0.7" stroke-width="0.6"/><circle cx="277.5" cy="705.8" r="2.3" fill="#0000d2" fill-opacity="0.72" stroke="#000098" stroke-opacity="0.7" stroke-width="0.6"/><circle cx="277.5" cy="707.4" r="2.3" fill="#0000d2" fill-opacity="0.72" stroke="#000098" stroke-opacity="0.7" stroke-width="0.6"/><circle cx="283.8" cy="722.4" r="2.3" fill="#0000d2" fill-opacity="0.72" stroke="#000098" stroke-opacity="0.7" stroke-width="0.6"/><circle cx="292.5" cy="687.4" r="2.3" fill="#0000d2" fill-opacity="0.72" stroke="#000098" stroke-opacity="0.7" stroke-width="0.6"/><circle cx="291.7" cy="697.4" r="2.3" fill="#0000d2" fill-opacity="0.72" stroke="#000098" stroke-opacity="0.7" stroke-width="0.6"/><circle cx="291.7" cy="699.9" r="2.3" fill="#0000d2" fill-opacity="0.72" stroke="#000098" stroke-opacity="0.7" stroke-width="0.6"/><circle cx="291.7" cy="708.2" r="2.3" fill="#0000d2" fill-opacity="0.72" stroke="#000098" stroke-opacity="0.7" stroke-width="0.6"/><circle cx="292.0" cy="709.9" r="2.3" fill="#0000d2" fill-opacity="0.72" stroke="#000098" stroke-opacity="0.7" stroke-width="0.6"/><circle cx="291.7" cy="712.4" r="2.3" fill="#0000d2" fill-opacity="0.72" stroke="#000098" stroke-opacity="0.7" stroke-width="0.6"/><circle cx="291.7" cy="716.9" r="2.3" fill="#0000d2" fill-opacity="0.72" stroke="#000098" stroke-opacity="0.7" stroke-width="0.6"/><circle cx="292.5" cy="725.2" r="2.3" fill="#0000d2" fill-opacity="0.72" stroke="#000098" stroke-opacity="0.7" stroke-width="0.6"/><circle cx="292.5" cy="737.7" r="2.3" fill="#0000d2" fill-opacity="0.72" stroke="#000098" stroke-opacity="0.7" stroke-width="0.6"/><circle cx="298.3" cy="686.3" r="2.3" fill="#0000d2" fill-opacity="0.72" stroke="#000098" stroke-opacity="0.7" stroke-width="0.6"/><circle cx="300.3" cy="689.6" r="2.3" fill="#0000d2" fill-opacity="0.72" stroke="#000098" stroke-opacity="0.7" stroke-width="0.6"/><circle cx="300.8" cy="690.8" r="2.3" fill="#0000d2" fill-opacity="0.72" stroke="#000098" stroke-opacity="0.7" stroke-width="0.6"/><circle cx="300.0" cy="696.6" r="2.3" fill="#0000d2" fill-opacity="0.72" stroke="#000098" stroke-opacity="0.7" stroke-width="0.6"/><circle cx="299.1" cy="699.1" r="2.3" fill="#0000d2" fill-opacity="0.72" stroke="#000098" stroke-opacity="0.7" stroke-width="0.6"/><circle cx="300.0" cy="701.6" r="2.3" fill="#0000d2" fill-opacity="0.72" stroke="#000098" stroke-opacity="0.7" stroke-width="0.6"/><circle cx="299.1" cy="704.1" r="2.3" fill="#0000d2" fill-opacity="0.72" stroke="#000098" stroke-opacity="0.7" stroke-width="0.6"/><circle cx="300.8" cy="704.9" r="2.3" fill="#0000d2" fill-opacity="0.72" stroke="#000098" stroke-opacity="0.7" stroke-width="0.6"/><circle cx="299.1" cy="709.1" r="2.3" fill="#0000d2" fill-opacity="0.72" stroke="#000098" stroke-opacity="0.7" stroke-width="0.6"/><circle cx="305.8" cy="697.4" r="2.3" fill="#0000d2" fill-opacity="0.72" stroke="#000098" stroke-opacity="0.7" stroke-width="0.6"/><circle cx="308.3" cy="698.2" r="2.3" fill="#0000d2" fill-opacity="0.72" stroke="#000098" stroke-opacity="0.7" stroke-width="0.6"/><circle cx="309.1" cy="700.7" r="2.3" fill="#0000d2" fill-opacity="0.72" stroke="#000098" stroke-opacity="0.7" stroke-width="0.6"/><circle cx="310.0" cy="703.2" r="2.3" fill="#0000d2" fill-opacity="0.72" stroke="#000098" stroke-opacity="0.7" stroke-width="0.6"/><circle cx="309.1" cy="705.7" r="2.3" fill="#0000d2" fill-opacity="0.72" stroke="#000098" stroke-opacity="0.7" stroke-width="0.6"/><circle cx="308.3" cy="699.1" r="2.3" fill="#0000d2" fill-opacity="0.72" stroke="#000098" stroke-opacity="0.7" stroke-width="0.6"/><circle cx="314.1" cy="694.1" r="2.3" fill="#0000d2" fill-opacity="0.72" stroke="#000098" stroke-opacity="0.7" stroke-width="0.6"/><circle cx="314.1" cy="698.6" r="2.3" fill="#0000d2" fill-opacity="0.72" stroke="#000098" stroke-opacity="0.7" stroke-width="0.6"/><circle cx="314.1" cy="707.4" r="2.3" fill="#0000d2" fill-opacity="0.72" stroke="#000098" stroke-opacity="0.7" stroke-width="0.6"/><circle cx="312.0" cy="718.7" r="2.3" fill="#0000d2" fill-opacity="0.72" stroke="#000098" stroke-opacity="0.7" stroke-width="0.6"/><circle cx="314.1" cy="730.7" r="2.3" fill="#0000d2" fill-opacity="0.72" stroke="#000098" stroke-opacity="0.7" stroke-width="0.6"/><circle cx="316.3" cy="680.4" r="2.3" fill="#0000d2" fill-opacity="0.72" stroke="#000098" stroke-opacity="0.7" stroke-width="0.6"/><circle cx="321.9" cy="692.9" r="2.3" fill="#0000d2" fill-opacity="0.72" stroke="#000098" stroke-opacity="0.7" stroke-width="0.6"/><circle cx="328.6" cy="697.4" r="2.3" fill="#0000d2" fill-opacity="0.72" stroke="#000098" stroke-opacity="0.7" stroke-width="0.6"/><circle cx="329.9" cy="680.3" r="2.3" fill="#0000d2" fill-opacity="0.72" stroke="#000098" stroke-opacity="0.7" stroke-width="0.6"/><circle cx="330.3" cy="706.6" r="2.3" fill="#0000d2" fill-opacity="0.72" stroke="#000098" stroke-opacity="0.7" stroke-width="0.6"/><circle cx="334.1" cy="718.2" r="2.3" fill="#0000d2" fill-opacity="0.72" stroke="#000098" stroke-opacity="0.7" stroke-width="0.6"/><circle cx="336.9" cy="674.9" r="2.3" fill="#0000d2" fill-opacity="0.72" stroke="#000098" stroke-opacity="0.7" stroke-width="0.6"/><circle cx="347.9" cy="690.8" r="2.3" fill="#0000d2" fill-opacity="0.72" stroke="#000098" stroke-opacity="0.7" stroke-width="0.6"/><circle cx="352.4" cy="692.4" r="2.3" fill="#0000d2" fill-opacity="0.72" stroke="#000098" stroke-opacity="0.7" stroke-width="0.6"/><circle cx="371.2" cy="687.1" r="2.3" fill="#0000d2" fill-opacity="0.72" stroke="#000098" stroke-opacity="0.7" stroke-width="0.6"/><circle cx="371.2" cy="689.6" r="2.3" fill="#0000d2" fill-opacity="0.72" stroke="#000098" stroke-opacity="0.7" stroke-width="0.6"/><circle cx="371.2" cy="694.1" r="2.3" fill="#0000d2" fill-opacity="0.72" stroke="#000098" stroke-opacity="0.7" stroke-width="0.6"/><circle cx="371.2" cy="694.9" r="2.3" fill="#0000d2" fill-opacity="0.72" stroke="#000098" stroke-opacity="0.7" stroke-width="0.6"/><circle cx="371.2" cy="699.9" r="2.3" fill="#0000d2" fill-opacity="0.72" stroke="#000098" stroke-opacity="0.7" stroke-width="0.6"/><circle cx="379.0" cy="706.2" r="2.3" fill="#0000d2" fill-opacity="0.72" stroke="#000098" stroke-opacity="0.7" stroke-width="0.6"/><circle cx="388.5" cy="680.4" r="2.3" fill="#0000d2" fill-opacity="0.72" stroke="#000098" stroke-opacity="0.7" stroke-width="0.6"/><line x1="185.71" y1="798.81" x2="388.79" y2="616.41" stroke="#c42c2c" stroke-width="1.75" stroke-dasharray="5.4 2.0"/><rect x="176.60" y="607.80" width="221.80" height="199.60" fill="none" stroke="#7a7a7a" stroke-width="1"/><line x1="190.40" y1="807.40" x2="190.40" y2="810.30" stroke="#555" stroke-width="0.9"/><text x="190.40" y="817.60" font-size="7.83" text-anchor="middle" fill="#2a2a2a" textLength="11.13" lengthAdjust="spacingAndGlyphs">0.3</text><line x1="237.30" y1="807.40" x2="237.30" y2="810.30" stroke="#555" stroke-width="0.9"/><text x="237.30" y="817.60" font-size="7.83" text-anchor="middle" fill="#2a2a2a" textLength="11.13" lengthAdjust="spacingAndGlyphs">0.4</text><line x1="284.20" y1="807.40" x2="284.20" y2="810.30" stroke="#555" stroke-width="0.9"/><text x="284.20" y="817.60" font-size="7.83" text-anchor="middle" fill="#2a2a2a" textLength="11.13" lengthAdjust="spacingAndGlyphs">0.5</text><line x1="331.10" y1="807.40" x2="331.10" y2="810.30" stroke="#555" stroke-width="0.9"/><text x="331.10" y="817.60" font-size="7.83" text-anchor="middle" fill="#2a2a2a" textLength="11.13" lengthAdjust="spacingAndGlyphs">0.6</text><line x1="378.00" y1="807.40" x2="378.00" y2="810.30" stroke="#555" stroke-width="0.9"/><text x="378.00" y="817.60" font-size="7.83" text-anchor="middle" fill="#2a2a2a" textLength="11.13" lengthAdjust="spacingAndGlyphs">0.7</text><line x1="173.70" y1="794.60" x2="176.60" y2="794.60" stroke="#555" stroke-width="0.9"/><text x="171.70" y="797.35" font-size="7.83" text-anchor="end" fill="#2a2a2a" textLength="11.13" lengthAdjust="spacingAndGlyphs">0.3</text><line x1="173.70" y1="752.48" x2="176.60" y2="752.48" stroke="#555" stroke-width="0.9"/><text x="171.70" y="755.23" font-size="7.83" text-anchor="end" fill="#2a2a2a" textLength="11.13" lengthAdjust="spacingAndGlyphs">0.4</text><line x1="173.70" y1="710.36" x2="176.60" y2="710.36" stroke="#555" stroke-width="0.9"/><text x="171.70" y="713.11" font-size="7.83" text-anchor="end" fill="#2a2a2a" textLength="11.13" lengthAdjust="spacingAndGlyphs">0.5</text><line x1="173.70" y1="668.24" x2="176.60" y2="668.24" stroke="#555" stroke-width="0.9"/><text x="171.70" y="670.99" font-size="7.83" text-anchor="end" fill="#2a2a2a" textLength="11.13" lengthAdjust="spacingAndGlyphs">0.6</text><line x1="173.70" y1="626.12" x2="176.60" y2="626.12" stroke="#555" stroke-width="0.9"/><text x="171.70" y="628.87" font-size="7.83" text-anchor="end" fill="#2a2a2a" textLength="11.13" lengthAdjust="spacingAndGlyphs">0.7</text><text x="287.50" y="829.00" font-size="8.88" text-anchor="middle" fill="#2a2a2a" textLength="53.00" lengthAdjust="spacingAndGlyphs">Actual Value</text><text x="0" y="0" font-size="8.88" text-anchor="middle" fill="#2a2a2a" textLength="65.8" lengthAdjust="spacingAndGlyphs" transform="translate(155.97,707.60) rotate(-90)">Predicted Value</text><text x="287.50" y="591.80" font-size="10.24" text-anchor="middle" fill="#2a2a2a" textLength="49.18" lengthAdjust="spacingAndGlyphs">ElasticNet</text><text x="263.70" y="603.00" font-size="10.24" font-style="italic" fill="#2a2a2a" textLength="6.0" lengthAdjust="spacingAndGlyphs">R</text><text x="270.80" y="598.90" font-size="7.37" fill="#2a2a2a" textLength="3.9" lengthAdjust="spacingAndGlyphs">2</text><text x="279.00" y="603.00" font-size="10.24" fill="#2a2a2a" textLength="7.0" lengthAdjust="spacingAndGlyphs">=</text><text x="290.90" y="603.00" font-size="10.24" fill="#2a2a2a" textLength="20.6" lengthAdjust="spacingAndGlyphs">0.39</text><rect x="180.20" y="610.80" width="94.3" height="23.8" rx="1.5" fill="#fff" fill-opacity="0.8" stroke="#d9d9d9" stroke-width="0.8"/><circle cx="190.10" cy="617.50" r="2.3" fill="#0000d2" fill-opacity="0.72" stroke="#000098" stroke-opacity="0.7" stroke-width="0.6"/><line x1="182.90" y1="627.20" x2="196.00" y2="627.20" stroke="#c42c2c" stroke-width="1.75" stroke-dasharray="5.6 2.1"/><text x="203.30" y="619.60" font-size="7.31" text-anchor="start" fill="#2a2a2a" textLength="66.60" lengthAdjust="spacingAndGlyphs">Predicted vs Actual</text><text x="203.30" y="630.20" font-size="7.31" text-anchor="start" fill="#2a2a2a" textLength="27.48" lengthAdjust="spacingAndGlyphs">Ideal Fit</text></g><g><circle cx="464.0" cy="756.5" r="2.3" fill="#0000d2" fill-opacity="0.72" stroke="#000098" stroke-opacity="0.7" stroke-width="0.6"/><circle cx="493.9" cy="760.7" r="2.3" fill="#0000d2" fill-opacity="0.72" stroke="#000098" stroke-opacity="0.7" stroke-width="0.6"/><circle cx="495.3" cy="760.4" r="2.3" fill="#0000d2" fill-opacity="0.72" stroke="#000098" stroke-opacity="0.7" stroke-width="0.6"/><circle cx="496.4" cy="759.9" r="2.3" fill="#0000d2" fill-opacity="0.72" stroke="#000098" stroke-opacity="0.7" stroke-width="0.6"/><circle cx="502.6" cy="763.2" r="2.3" fill="#0000d2" fill-opacity="0.72" stroke="#000098" stroke-opacity="0.7" stroke-width="0.6"/><circle cx="510.2" cy="761.5" r="2.3" fill="#0000d2" fill-opacity="0.72" stroke="#000098" stroke-opacity="0.7" stroke-width="0.6"/><circle cx="498.9" cy="728.6" r="2.3" fill="#0000d2" fill-opacity="0.72" stroke="#000098" stroke-opacity="0.7" stroke-width="0.6"/><circle cx="503.6" cy="727.9" r="2.3" fill="#0000d2" fill-opacity="0.72" stroke="#000098" stroke-opacity="0.7" stroke-width="0.6"/><circle cx="522.6" cy="696.3" r="2.3" fill="#0000d2" fill-opacity="0.72" stroke="#000098" stroke-opacity="0.7" stroke-width="0.6"/><circle cx="518.1" cy="729.9" r="2.3" fill="#0000d2" fill-opacity="0.72" stroke="#000098" stroke-opacity="0.7" stroke-width="0.6"/><circle cx="521.4" cy="734.1" r="2.3" fill="#0000d2" fill-opacity="0.72" stroke="#000098" stroke-opacity="0.7" stroke-width="0.6"/><circle cx="522.6" cy="737.4" r="2.3" fill="#0000d2" fill-opacity="0.72" stroke="#000098" stroke-opacity="0.7" stroke-width="0.6"/><circle cx="520.9" cy="741.2" r="2.3" fill="#0000d2" fill-opacity="0.72" stroke="#000098" stroke-opacity="0.7" stroke-width="0.6"/><circle cx="521.4" cy="745.7" r="2.3" fill="#0000d2" fill-opacity="0.72" stroke="#000098" stroke-opacity="0.7" stroke-width="0.6"/><circle cx="522.6" cy="746.6" r="2.3" fill="#0000d2" fill-opacity="0.72" stroke="#000098" stroke-opacity="0.7" stroke-width="0.6"/><circle cx="523.1" cy="727.4" r="2.3" fill="#0000d2" fill-opacity="0.72" stroke="#000098" stroke-opacity="0.7" stroke-width="0.6"/><circle cx="523.9" cy="729.1" r="2.3" fill="#0000d2" fill-opacity="0.72" stroke="#000098" stroke-opacity="0.7" stroke-width="0.6"/><circle cx="527.2" cy="726.6" r="2.3" fill="#0000d2" fill-opacity="0.72" stroke="#000098" stroke-opacity="0.7" stroke-width="0.6"/><circle cx="528.9" cy="728.2" r="2.3" fill="#0000d2" fill-opacity="0.72" stroke="#000098" stroke-opacity="0.7" stroke-width="0.6"/><circle cx="529.7" cy="724.1" r="2.3" fill="#0000d2" fill-opacity="0.72" stroke="#000098" stroke-opacity="0.7" stroke-width="0.6"/><circle cx="528.1" cy="719.1" r="2.3" fill="#0000d2" fill-opacity="0.72" stroke="#000098" stroke-opacity="0.7" stroke-width="0.6"/><circle cx="533.0" cy="718.3" r="2.3" fill="#0000d2" fill-opacity="0.72" stroke="#000098" stroke-opacity="0.7" stroke-width="0.6"/><circle cx="537.2" cy="719.6" r="2.3" fill="#0000d2" fill-opacity="0.72" stroke="#000098" stroke-opacity="0.7" stroke-width="0.6"/><circle cx="537.2" cy="723.3" r="2.3" fill="#0000d2" fill-opacity="0.72" stroke="#000098" stroke-opacity="0.7" stroke-width="0.6"/><circle cx="538.9" cy="713.6" r="2.3" fill="#0000d2" fill-opacity="0.72" stroke="#000098" stroke-opacity="0.7" stroke-width="0.6"/><circle cx="520.9" cy="754.5" r="2.3" fill="#0000d2" fill-opacity="0.72" stroke="#000098" stroke-opacity="0.7" stroke-width="0.6"/><circle cx="526.7" cy="762.0" r="2.3" fill="#0000d2" fill-opacity="0.72" stroke="#000098" stroke-opacity="0.7" stroke-width="0.6"/><circle cx="535.5" cy="749.9" r="2.3" fill="#0000d2" fill-opacity="0.72" stroke="#000098" stroke-opacity="0.7" stroke-width="0.6"/><circle cx="540.5" cy="754.0" r="2.3" fill="#0000d2" fill-opacity="0.72" stroke="#000098" stroke-opacity="0.7" stroke-width="0.6"/><circle cx="538.5" cy="759.9" r="2.3" fill="#0000d2" fill-opacity="0.72" stroke="#000098" stroke-opacity="0.7" stroke-width="0.6"/><circle cx="542.2" cy="696.6" r="2.3" fill="#0000d2" fill-opacity="0.72" stroke="#000098" stroke-opacity="0.7" stroke-width="0.6"/><circle cx="545.5" cy="702.5" r="2.3" fill="#0000d2" fill-opacity="0.72" stroke="#000098" stroke-opacity="0.7" stroke-width="0.6"/><circle cx="544.7" cy="722.4" r="2.3" fill="#0000d2" fill-opacity="0.72" stroke="#000098" stroke-opacity="0.7" stroke-width="0.6"/><circle cx="547.2" cy="711.6" r="2.3" fill="#0000d2" fill-opacity="0.72" stroke="#000098" stroke-opacity="0.7" stroke-width="0.6"/><circle cx="547.2" cy="714.1" r="2.3" fill="#0000d2" fill-opacity="0.72" stroke="#000098" stroke-opacity="0.7" stroke-width="0.6"/><circle cx="547.2" cy="716.6" r="2.3" fill="#0000d2" fill-opacity="0.72" stroke="#000098" stroke-opacity="0.7" stroke-width="0.6"/><circle cx="547.5" cy="719.1" r="2.3" fill="#0000d2" fill-opacity="0.72" stroke="#000098" stroke-opacity="0.7" stroke-width="0.6"/><circle cx="549.7" cy="724.1" r="2.3" fill="#0000d2" fill-opacity="0.72" stroke="#000098" stroke-opacity="0.7" stroke-width="0.6"/><circle cx="547.2" cy="732.4" r="2.3" fill="#0000d2" fill-opacity="0.72" stroke="#000098" stroke-opacity="0.7" stroke-width="0.6"/><circle cx="549.4" cy="741.9" r="2.3" fill="#0000d2" fill-opacity="0.72" stroke="#000098" stroke-opacity="0.7" stroke-width="0.6"/><circle cx="549.2" cy="746.9" r="2.3" fill="#0000d2" fill-opacity="0.72" stroke="#000098" stroke-opacity="0.7" stroke-width="0.6"/><circle cx="549.2" cy="751.5" r="2.3" fill="#0000d2" fill-opacity="0.72" stroke="#000098" stroke-opacity="0.7" stroke-width="0.6"/><circle cx="549.7" cy="753.2" r="2.3" fill="#0000d2" fill-opacity="0.72" stroke="#000098" stroke-opacity="0.7" stroke-width="0.6"/><circle cx="553.5" cy="751.9" r="2.3" fill="#0000d2" fill-opacity="0.72" stroke="#000098" stroke-opacity="0.7" stroke-width="0.6"/><circle cx="554.2" cy="678.3" r="2.3" fill="#0000d2" fill-opacity="0.72" stroke="#000098" stroke-opacity="0.7" stroke-width="0.6"/><circle cx="558.0" cy="686.3" r="2.3" fill="#0000d2" fill-opacity="0.72" stroke="#000098" stroke-opacity="0.7" stroke-width="0.6"/><circle cx="553.0" cy="692.5" r="2.3" fill="#0000d2" fill-opacity="0.72" stroke="#000098" stroke-opacity="0.7" stroke-width="0.6"/><circle cx="553.0" cy="698.6" r="2.3" fill="#0000d2" fill-opacity="0.72" stroke="#000098" stroke-opacity="0.7" stroke-width="0.6"/><circle cx="553.9" cy="704.9" r="2.3" fill="#0000d2" fill-opacity="0.72" stroke="#000098" stroke-opacity="0.7" stroke-width="0.6"/><circle cx="554.2" cy="710.8" r="2.3" fill="#0000d2" fill-opacity="0.72" stroke="#000098" stroke-opacity="0.7" stroke-width="0.6"/><circle cx="553.9" cy="714.9" r="2.3" fill="#0000d2" fill-opacity="0.72" stroke="#000098" stroke-opacity="0.7" stroke-width="0.6"/><circle cx="554.7" cy="719.9" r="2.3" fill="#0000d2" fill-opacity="0.72" stroke="#000098" stroke-opacity="0.7" stroke-width="0.6"/><circle cx="553.9" cy="724.1" r="2.3" fill="#0000d2" fill-opacity="0.72" stroke="#000098" stroke-opacity="0.7" stroke-width="0.6"/><circle cx="554.7" cy="727.4" r="2.3" fill="#0000d2" fill-opacity="0.72" stroke="#000098" stroke-opacity="0.7" stroke-width="0.6"/><circle cx="560.5" cy="724.9" r="2.3" fill="#0000d2" fill-opacity="0.72" stroke="#000098" stroke-opacity="0.7" stroke-width="0.6"/><circle cx="560.5" cy="730.7" r="2.3" fill="#0000d2" fill-opacity="0.72" stroke="#000098" stroke-opacity="0.7" stroke-width="0.6"/><circle cx="560.5" cy="734.1" r="2.3" fill="#0000d2" fill-opacity="0.72" stroke="#000098" stroke-opacity="0.7" stroke-width="0.6"/><circle cx="560.5" cy="736.6" r="2.3" fill="#0000d2" fill-opacity="0.72" stroke="#000098" stroke-opacity="0.7" stroke-width="0.6"/><circle cx="569.0" cy="690.3" r="2.3" fill="#0000d2" fill-opacity="0.72" stroke="#000098" stroke-opacity="0.7" stroke-width="0.6"/><circle cx="568.3" cy="697.4" r="2.3" fill="#0000d2" fill-opacity="0.72" stroke="#000098" stroke-opacity="0.7" stroke-width="0.6"/><circle cx="568.3" cy="700.8" r="2.3" fill="#0000d2" fill-opacity="0.72" stroke="#000098" stroke-opacity="0.7" stroke-width="0.6"/><circle cx="569.5" cy="719.1" r="2.3" fill="#0000d2" fill-opacity="0.72" stroke="#000098" stroke-opacity="0.7" stroke-width="0.6"/><circle cx="569.0" cy="725.2" r="2.3" fill="#0000d2" fill-opacity="0.72" stroke="#000098" stroke-opacity="0.7" stroke-width="0.6"/><circle cx="575.3" cy="689.6" r="2.3" fill="#0000d2" fill-opacity="0.72" stroke="#000098" stroke-opacity="0.7" stroke-width="0.6"/><circle cx="576.6" cy="689.9" r="2.3" fill="#0000d2" fill-opacity="0.72" stroke="#000098" stroke-opacity="0.7" stroke-width="0.6"/><circle cx="577.0" cy="691.6" r="2.3" fill="#0000d2" fill-opacity="0.72" stroke="#000098" stroke-opacity="0.7" stroke-width="0.6"/><circle cx="577.3" cy="698.6" r="2.3" fill="#0000d2" fill-opacity="0.72" stroke="#000098" stroke-opacity="0.7" stroke-width="0.6"/><circle cx="576.6" cy="706.6" r="2.3" fill="#0000d2" fill-opacity="0.72" stroke="#000098" stroke-opacity="0.7" stroke-width="0.6"/><circle cx="575.6" cy="711.9" r="2.3" fill="#0000d2" fill-opacity="0.72" stroke="#000098" stroke-opacity="0.7" stroke-width="0.6"/><circle cx="582.3" cy="716.2" r="2.3" fill="#0000d2" fill-opacity="0.72" stroke="#000098" stroke-opacity="0.7" stroke-width="0.6"/><circle cx="587.0" cy="695.8" r="2.3" fill="#0000d2" fill-opacity="0.72" stroke="#000098" stroke-opacity="0.7" stroke-width="0.6"/><circle cx="588.6" cy="694.9" r="2.3" fill="#0000d2" fill-opacity="0.72" stroke="#000098" stroke-opacity="0.7" stroke-width="0.6"/><circle cx="590.6" cy="694.1" r="2.3" fill="#0000d2" fill-opacity="0.72" stroke="#000098" stroke-opacity="0.7" stroke-width="0.6"/><circle cx="592.0" cy="695.8" r="2.3" fill="#0000d2" fill-opacity="0.72" stroke="#000098" stroke-opacity="0.7" stroke-width="0.6"/><circle cx="589.5" cy="698.3" r="2.3" fill="#0000d2" fill-opacity="0.72" stroke="#000098" stroke-opacity="0.7" stroke-width="0.6"/><circle cx="587.0" cy="699.9" r="2.3" fill="#0000d2" fill-opacity="0.72" stroke="#000098" stroke-opacity="0.7" stroke-width="0.6"/><circle cx="586.6" cy="703.3" r="2.3" fill="#0000d2" fill-opacity="0.72" stroke="#000098" stroke-opacity="0.7" stroke-width="0.6"/><circle cx="585.3" cy="704.9" r="2.3" fill="#0000d2" fill-opacity="0.72" stroke="#000098" stroke-opacity="0.7" stroke-width="0.6"/><circle cx="587.0" cy="707.4" r="2.3" fill="#0000d2" fill-opacity="0.72" stroke="#000098" stroke-opacity="0.7" stroke-width="0.6"/><circle cx="587.3" cy="710.7" r="2.3" fill="#0000d2" fill-opacity="0.72" stroke="#000098" stroke-opacity="0.7" stroke-width="0.6"/><circle cx="590.6" cy="680.8" r="2.3" fill="#0000d2" fill-opacity="0.72" stroke="#000098" stroke-opacity="0.7" stroke-width="0.6"/><circle cx="590.6" cy="718.6" r="2.3" fill="#0000d2" fill-opacity="0.72" stroke="#000098" stroke-opacity="0.7" stroke-width="0.6"/><circle cx="588.3" cy="731.2" r="2.3" fill="#0000d2" fill-opacity="0.72" stroke="#000098" stroke-opacity="0.7" stroke-width="0.6"/><circle cx="588.3" cy="735.7" r="2.3" fill="#0000d2" fill-opacity="0.72" stroke="#000098" stroke-opacity="0.7" stroke-width="0.6"/><circle cx="588.3" cy="736.9" r="2.3" fill="#0000d2" fill-opacity="0.72" stroke="#000098" stroke-opacity="0.7" stroke-width="0.6"/><circle cx="598.3" cy="698.3" r="2.3" fill="#0000d2" fill-opacity="0.72" stroke="#000098" stroke-opacity="0.7" stroke-width="0.6"/><circle cx="604.9" cy="685.8" r="2.3" fill="#0000d2" fill-opacity="0.72" stroke="#000098" stroke-opacity="0.7" stroke-width="0.6"/><circle cx="606.6" cy="699.1" r="2.3" fill="#0000d2" fill-opacity="0.72" stroke="#000098" stroke-opacity="0.7" stroke-width="0.6"/><circle cx="606.6" cy="701.6" r="2.3" fill="#0000d2" fill-opacity="0.72" stroke="#000098" stroke-opacity="0.7" stroke-width="0.6"/><circle cx="606.1" cy="704.1" r="2.3" fill="#0000d2" fill-opacity="0.72" stroke="#000098" stroke-opacity="0.7" stroke-width="0.6"/><circle cx="606.6" cy="705.7" r="2.3" fill="#0000d2" fill-opacity="0.72" stroke="#000098" stroke-opacity="0.7" stroke-width="0.6"/><circle cx="606.6" cy="711.9" r="2.3" fill="#0000d2" fill-opacity="0.72" stroke="#000098" stroke-opacity="0.7" stroke-width="0.6"/><circle cx="610.3" cy="716.6" r="2.3" fill="#0000d2" fill-opacity="0.72" stroke="#000098" stroke-opacity="0.7" stroke-width="0.6"/><circle cx="612.8" cy="686.3" r="2.3" fill="#0000d2" fill-opacity="0.72" stroke="#000098" stroke-opacity="0.7" stroke-width="0.6"/><circle cx="612.8" cy="689.1" r="2.3" fill="#0000d2" fill-opacity="0.72" stroke="#000098" stroke-opacity="0.7" stroke-width="0.6"/><circle cx="612.8" cy="698.3" r="2.3" fill="#0000d2" fill-opacity="0.72" stroke="#000098" stroke-opacity="0.7" stroke-width="0.6"/><circle cx="612.8" cy="699.9" r="2.3" fill="#0000d2" fill-opacity="0.72" stroke="#000098" stroke-opacity="0.7" stroke-width="0.6"/><circle cx="623.9" cy="700.8" r="2.3" fill="#0000d2" fill-opacity="0.72" stroke="#000098" stroke-opacity="0.7" stroke-width="0.6"/><circle cx="628.6" cy="695.8" r="2.3" fill="#0000d2" fill-opacity="0.72" stroke="#000098" stroke-opacity="0.7" stroke-width="0.6"/><circle cx="646.9" cy="686.9" r="2.3" fill="#0000d2" fill-opacity="0.72" stroke="#000098" stroke-opacity="0.7" stroke-width="0.6"/><circle cx="646.9" cy="694.1" r="2.3" fill="#0000d2" fill-opacity="0.72" stroke="#000098" stroke-opacity="0.7" stroke-width="0.6"/><circle cx="646.9" cy="695.8" r="2.3" fill="#0000d2" fill-opacity="0.72" stroke="#000098" stroke-opacity="0.7" stroke-width="0.6"/><circle cx="646.9" cy="698.3" r="2.3" fill="#0000d2" fill-opacity="0.72" stroke="#000098" stroke-opacity="0.7" stroke-width="0.6"/><circle cx="654.4" cy="689.9" r="2.3" fill="#0000d2" fill-opacity="0.72" stroke="#000098" stroke-opacity="0.7" stroke-width="0.6"/><circle cx="654.4" cy="692.4" r="2.3" fill="#0000d2" fill-opacity="0.72" stroke="#000098" stroke-opacity="0.7" stroke-width="0.6"/><circle cx="654.4" cy="699.1" r="2.3" fill="#0000d2" fill-opacity="0.72" stroke="#000098" stroke-opacity="0.7" stroke-width="0.6"/><circle cx="654.4" cy="714.6" r="2.3" fill="#0000d2" fill-opacity="0.72" stroke="#000098" stroke-opacity="0.7" stroke-width="0.6"/><circle cx="664.3" cy="705.3" r="2.3" fill="#0000d2" fill-opacity="0.72" stroke="#000098" stroke-opacity="0.7" stroke-width="0.6"/><line x1="463.86" y1="799.38" x2="664.88" y2="618.60" stroke="#c42c2c" stroke-width="1.75" stroke-dasharray="5.4 2.0"/><rect x="454.30" y="610.40" width="220.40" height="197.20" fill="none" stroke="#7a7a7a" stroke-width="1"/><line x1="468.50" y1="807.60" x2="468.50" y2="810.50" stroke="#555" stroke-width="0.9"/><text x="468.50" y="817.80" font-size="7.83" text-anchor="middle" fill="#2a2a2a" textLength="11.13" lengthAdjust="spacingAndGlyphs">0.3</text><line x1="514.92" y1="807.60" x2="514.92" y2="810.50" stroke="#555" stroke-width="0.9"/><text x="514.92" y="817.80" font-size="7.83" text-anchor="middle" fill="#2a2a2a" textLength="11.13" lengthAdjust="spacingAndGlyphs">0.4</text><line x1="561.34" y1="807.60" x2="561.34" y2="810.50" stroke="#555" stroke-width="0.9"/><text x="561.34" y="817.80" font-size="7.83" text-anchor="middle" fill="#2a2a2a" textLength="11.13" lengthAdjust="spacingAndGlyphs">0.5</text><line x1="607.76" y1="807.60" x2="607.76" y2="810.50" stroke="#555" stroke-width="0.9"/><text x="607.76" y="817.80" font-size="7.83" text-anchor="middle" fill="#2a2a2a" textLength="11.13" lengthAdjust="spacingAndGlyphs">0.6</text><line x1="654.18" y1="807.60" x2="654.18" y2="810.50" stroke="#555" stroke-width="0.9"/><text x="654.18" y="817.80" font-size="7.83" text-anchor="middle" fill="#2a2a2a" textLength="11.13" lengthAdjust="spacingAndGlyphs">0.7</text><line x1="451.40" y1="795.20" x2="454.30" y2="795.20" stroke="#555" stroke-width="0.9"/><text x="449.40" y="797.95" font-size="7.83" text-anchor="end" fill="#2a2a2a" textLength="11.13" lengthAdjust="spacingAndGlyphs">0.3</text><line x1="451.40" y1="753.45" x2="454.30" y2="753.45" stroke="#555" stroke-width="0.9"/><text x="449.40" y="756.20" font-size="7.83" text-anchor="end" fill="#2a2a2a" textLength="11.13" lengthAdjust="spacingAndGlyphs">0.4</text><line x1="451.40" y1="711.70" x2="454.30" y2="711.70" stroke="#555" stroke-width="0.9"/><text x="449.40" y="714.45" font-size="7.83" text-anchor="end" fill="#2a2a2a" textLength="11.13" lengthAdjust="spacingAndGlyphs">0.5</text><line x1="451.40" y1="669.95" x2="454.30" y2="669.95" stroke="#555" stroke-width="0.9"/><text x="449.40" y="672.70" font-size="7.83" text-anchor="end" fill="#2a2a2a" textLength="11.13" lengthAdjust="spacingAndGlyphs">0.6</text><line x1="451.40" y1="628.20" x2="454.30" y2="628.20" stroke="#555" stroke-width="0.9"/><text x="449.40" y="630.95" font-size="7.83" text-anchor="end" fill="#2a2a2a" textLength="11.13" lengthAdjust="spacingAndGlyphs">0.7</text><text x="564.50" y="829.20" font-size="8.88" text-anchor="middle" fill="#2a2a2a" textLength="53.00" lengthAdjust="spacingAndGlyphs">Actual Value</text><text x="0" y="0" font-size="8.88" text-anchor="middle" fill="#2a2a2a" textLength="65.8" lengthAdjust="spacingAndGlyphs" transform="translate(433.42,709.00) rotate(-90)">Predicted Value</text><text x="564.50" y="594.70" font-size="10.24" text-anchor="middle" fill="#2a2a2a" textLength="70.65" lengthAdjust="spacingAndGlyphs">RandomForest</text><text x="540.70" y="605.60" font-size="10.24" font-style="italic" fill="#2a2a2a" textLength="6.0" lengthAdjust="spacingAndGlyphs">R</text><text x="547.80" y="601.50" font-size="7.37" fill="#2a2a2a" textLength="3.9" lengthAdjust="spacingAndGlyphs">2</text><text x="556.00" y="605.60" font-size="10.24" fill="#2a2a2a" textLength="7.0" lengthAdjust="spacingAndGlyphs">=</text><text x="567.90" y="605.60" font-size="10.24" fill="#2a2a2a" textLength="20.6" lengthAdjust="spacingAndGlyphs">0.37</text><rect x="457.90" y="613.40" width="94.3" height="23.8" rx="1.5" fill="#fff" fill-opacity="0.8" stroke="#d9d9d9" stroke-width="0.8"/><circle cx="467.80" cy="620.10" r="2.3" fill="#0000d2" fill-opacity="0.72" stroke="#000098" stroke-opacity="0.7" stroke-width="0.6"/><line x1="460.60" y1="629.80" x2="473.70" y2="629.80" stroke="#c42c2c" stroke-width="1.75" stroke-dasharray="5.6 2.1"/><text x="481.00" y="622.20" font-size="7.31" text-anchor="start" fill="#2a2a2a" textLength="66.60" lengthAdjust="spacingAndGlyphs">Predicted vs Actual</text><text x="481.00" y="632.80" font-size="7.31" text-anchor="start" fill="#2a2a2a" textLength="27.48" lengthAdjust="spacingAndGlyphs">Ideal Fit</text></g><g><circle cx="188.5" cy="1011.7" r="2.3" fill="#0000d2" fill-opacity="0.72" stroke="#000098" stroke-opacity="0.7" stroke-width="0.6"/><circle cx="220.0" cy="1005.7" r="2.3" fill="#0000d2" fill-opacity="0.72" stroke="#000098" stroke-opacity="0.7" stroke-width="0.6"/><circle cx="235.0" cy="998.1" r="2.3" fill="#0000d2" fill-opacity="0.72" stroke="#000098" stroke-opacity="0.7" stroke-width="0.6"/><circle cx="235.5" cy="999.0" r="2.3" fill="#0000d2" fill-opacity="0.72" stroke="#000098" stroke-opacity="0.7" stroke-width="0.6"/><circle cx="235.5" cy="1007.2" r="2.3" fill="#0000d2" fill-opacity="0.72" stroke="#000098" stroke-opacity="0.7" stroke-width="0.6"/><circle cx="236.8" cy="1009.0" r="2.3" fill="#0000d2" fill-opacity="0.72" stroke="#000098" stroke-opacity="0.7" stroke-width="0.6"/><circle cx="236.8" cy="1011.3" r="2.3" fill="#0000d2" fill-opacity="0.72" stroke="#000098" stroke-opacity="0.7" stroke-width="0.6"/><circle cx="237.7" cy="1012.6" r="2.3" fill="#0000d2" fill-opacity="0.72" stroke="#000098" stroke-opacity="0.7" stroke-width="0.6"/><circle cx="239.9" cy="1017.5" r="2.3" fill="#0000d2" fill-opacity="0.72" stroke="#000098" stroke-opacity="0.7" stroke-width="0.6"/><circle cx="237.3" cy="1022.2" r="2.3" fill="#0000d2" fill-opacity="0.72" stroke="#000098" stroke-opacity="0.7" stroke-width="0.6"/><circle cx="244.9" cy="994.0" r="2.3" fill="#0000d2" fill-opacity="0.72" stroke="#000098" stroke-opacity="0.7" stroke-width="0.6"/><circle cx="244.9" cy="999.6" r="2.3" fill="#0000d2" fill-opacity="0.72" stroke="#000098" stroke-opacity="0.7" stroke-width="0.6"/><circle cx="245.3" cy="1011.7" r="2.3" fill="#0000d2" fill-opacity="0.72" stroke="#000098" stroke-opacity="0.7" stroke-width="0.6"/><circle cx="250.4" cy="1005.4" r="2.3" fill="#0000d2" fill-opacity="0.72" stroke="#000098" stroke-opacity="0.7" stroke-width="0.6"/><circle cx="250.4" cy="1014.8" r="2.3" fill="#0000d2" fill-opacity="0.72" stroke="#000098" stroke-opacity="0.7" stroke-width="0.6"/><circle cx="254.9" cy="999.9" r="2.3" fill="#0000d2" fill-opacity="0.72" stroke="#000098" stroke-opacity="0.7" stroke-width="0.6"/><circle cx="256.2" cy="996.9" r="2.3" fill="#0000d2" fill-opacity="0.72" stroke="#000098" stroke-opacity="0.7" stroke-width="0.6"/><circle cx="256.7" cy="987.8" r="2.3" fill="#0000d2" fill-opacity="0.72" stroke="#000098" stroke-opacity="0.7" stroke-width="0.6"/><circle cx="259.4" cy="999.9" r="2.3" fill="#0000d2" fill-opacity="0.72" stroke="#000098" stroke-opacity="0.7" stroke-width="0.6"/><circle cx="261.6" cy="986.7" r="2.3" fill="#0000d2" fill-opacity="0.72" stroke="#000098" stroke-opacity="0.7" stroke-width="0.6"/><circle cx="262.7" cy="995.4" r="2.3" fill="#0000d2" fill-opacity="0.72" stroke="#000098" stroke-opacity="0.7" stroke-width="0.6"/><circle cx="260.9" cy="1032.7" r="2.3" fill="#0000d2" fill-opacity="0.72" stroke="#000098" stroke-opacity="0.7" stroke-width="0.6"/><circle cx="266.3" cy="948.0" r="2.3" fill="#0000d2" fill-opacity="0.72" stroke="#000098" stroke-opacity="0.7" stroke-width="0.6"/><circle cx="270.6" cy="944.4" r="2.3" fill="#0000d2" fill-opacity="0.72" stroke="#000098" stroke-opacity="0.7" stroke-width="0.6"/><circle cx="267.6" cy="1000.5" r="2.3" fill="#0000d2" fill-opacity="0.72" stroke="#000098" stroke-opacity="0.7" stroke-width="0.6"/><circle cx="267.6" cy="984.6" r="2.3" fill="#0000d2" fill-opacity="0.72" stroke="#000098" stroke-opacity="0.7" stroke-width="0.6"/><circle cx="267.6" cy="987.3" r="2.3" fill="#0000d2" fill-opacity="0.72" stroke="#000098" stroke-opacity="0.7" stroke-width="0.6"/><circle cx="267.6" cy="982.7" r="2.3" fill="#0000d2" fill-opacity="0.72" stroke="#000098" stroke-opacity="0.7" stroke-width="0.6"/><circle cx="270.3" cy="958.3" r="2.3" fill="#0000d2" fill-opacity="0.72" stroke="#000098" stroke-opacity="0.7" stroke-width="0.6"/><circle cx="270.6" cy="960.1" r="2.3" fill="#0000d2" fill-opacity="0.72" stroke="#000098" stroke-opacity="0.7" stroke-width="0.6"/><circle cx="270.6" cy="962.5" r="2.3" fill="#0000d2" fill-opacity="0.72" stroke="#000098" stroke-opacity="0.7" stroke-width="0.6"/><circle cx="270.6" cy="971.9" r="2.3" fill="#0000d2" fill-opacity="0.72" stroke="#000098" stroke-opacity="0.7" stroke-width="0.6"/><circle cx="270.6" cy="979.5" r="2.3" fill="#0000d2" fill-opacity="0.72" stroke="#000098" stroke-opacity="0.7" stroke-width="0.6"/><circle cx="272.4" cy="993.2" r="2.3" fill="#0000d2" fill-opacity="0.72" stroke="#000098" stroke-opacity="0.7" stroke-width="0.6"/><circle cx="282.6" cy="969.2" r="2.3" fill="#0000d2" fill-opacity="0.72" stroke="#000098" stroke-opacity="0.7" stroke-width="0.6"/><circle cx="285.7" cy="990.3" r="2.3" fill="#0000d2" fill-opacity="0.72" stroke="#000098" stroke-opacity="0.7" stroke-width="0.6"/><circle cx="286.6" cy="968.6" r="2.3" fill="#0000d2" fill-opacity="0.72" stroke="#000098" stroke-opacity="0.7" stroke-width="0.6"/><circle cx="286.9" cy="971.0" r="2.3" fill="#0000d2" fill-opacity="0.72" stroke="#000098" stroke-opacity="0.7" stroke-width="0.6"/><circle cx="286.9" cy="973.3" r="2.3" fill="#0000d2" fill-opacity="0.72" stroke="#000098" stroke-opacity="0.7" stroke-width="0.6"/><circle cx="286.6" cy="978.2" r="2.3" fill="#0000d2" fill-opacity="0.72" stroke="#000098" stroke-opacity="0.7" stroke-width="0.6"/><circle cx="320.0" cy="885.4" r="2.3" fill="#0000d2" fill-opacity="0.72" stroke="#000098" stroke-opacity="0.7" stroke-width="0.6"/><circle cx="291.8" cy="938.4" r="2.3" fill="#0000d2" fill-opacity="0.72" stroke="#000098" stroke-opacity="0.7" stroke-width="0.6"/><circle cx="290.0" cy="961.4" r="2.3" fill="#0000d2" fill-opacity="0.72" stroke="#000098" stroke-opacity="0.7" stroke-width="0.6"/><circle cx="294.1" cy="961.0" r="2.3" fill="#0000d2" fill-opacity="0.72" stroke="#000098" stroke-opacity="0.7" stroke-width="0.6"/><circle cx="292.3" cy="983.7" r="2.3" fill="#0000d2" fill-opacity="0.72" stroke="#000098" stroke-opacity="0.7" stroke-width="0.6"/><circle cx="292.3" cy="987.3" r="2.3" fill="#0000d2" fill-opacity="0.72" stroke="#000098" stroke-opacity="0.7" stroke-width="0.6"/><circle cx="291.8" cy="990.3" r="2.3" fill="#0000d2" fill-opacity="0.72" stroke="#000098" stroke-opacity="0.7" stroke-width="0.6"/><circle cx="291.8" cy="993.6" r="2.3" fill="#0000d2" fill-opacity="0.72" stroke="#000098" stroke-opacity="0.7" stroke-width="0.6"/><circle cx="294.7" cy="971.9" r="2.3" fill="#0000d2" fill-opacity="0.72" stroke="#000098" stroke-opacity="0.7" stroke-width="0.6"/><circle cx="300.1" cy="970.1" r="2.3" fill="#0000d2" fill-opacity="0.72" stroke="#000098" stroke-opacity="0.7" stroke-width="0.6"/><circle cx="302.3" cy="968.3" r="2.3" fill="#0000d2" fill-opacity="0.72" stroke="#000098" stroke-opacity="0.7" stroke-width="0.6"/><circle cx="303.2" cy="970.4" r="2.3" fill="#0000d2" fill-opacity="0.72" stroke="#000098" stroke-opacity="0.7" stroke-width="0.6"/><circle cx="305.0" cy="972.8" r="2.3" fill="#0000d2" fill-opacity="0.72" stroke="#000098" stroke-opacity="0.7" stroke-width="0.6"/><circle cx="302.6" cy="955.6" r="2.3" fill="#0000d2" fill-opacity="0.72" stroke="#000098" stroke-opacity="0.7" stroke-width="0.6"/><circle cx="305.9" cy="953.8" r="2.3" fill="#0000d2" fill-opacity="0.72" stroke="#000098" stroke-opacity="0.7" stroke-width="0.6"/><circle cx="309.5" cy="955.2" r="2.3" fill="#0000d2" fill-opacity="0.72" stroke="#000098" stroke-opacity="0.7" stroke-width="0.6"/><circle cx="305.9" cy="937.2" r="2.3" fill="#0000d2" fill-opacity="0.72" stroke="#000098" stroke-opacity="0.7" stroke-width="0.6"/><circle cx="305.9" cy="943.8" r="2.3" fill="#0000d2" fill-opacity="0.72" stroke="#000098" stroke-opacity="0.7" stroke-width="0.6"/><circle cx="306.3" cy="946.6" r="2.3" fill="#0000d2" fill-opacity="0.72" stroke="#000098" stroke-opacity="0.7" stroke-width="0.6"/><circle cx="305.9" cy="949.3" r="2.3" fill="#0000d2" fill-opacity="0.72" stroke="#000098" stroke-opacity="0.7" stroke-width="0.6"/><circle cx="313.1" cy="937.9" r="2.3" fill="#0000d2" fill-opacity="0.72" stroke="#000098" stroke-opacity="0.7" stroke-width="0.6"/><circle cx="302.6" cy="981.8" r="2.3" fill="#0000d2" fill-opacity="0.72" stroke="#000098" stroke-opacity="0.7" stroke-width="0.6"/><circle cx="303.2" cy="993.6" r="2.3" fill="#0000d2" fill-opacity="0.72" stroke="#000098" stroke-opacity="0.7" stroke-width="0.6"/><circle cx="314.0" cy="964.7" r="2.3" fill="#0000d2" fill-opacity="0.72" stroke="#000098" stroke-opacity="0.7" stroke-width="0.6"/><circle cx="314.0" cy="967.4" r="2.3" fill="#0000d2" fill-opacity="0.72" stroke="#000098" stroke-opacity="0.7" stroke-width="0.6"/><circle cx="314.0" cy="971.0" r="2.3" fill="#0000d2" fill-opacity="0.72" stroke="#000098" stroke-opacity="0.7" stroke-width="0.6"/><circle cx="314.0" cy="978.8" r="2.3" fill="#0000d2" fill-opacity="0.72" stroke="#000098" stroke-opacity="0.7" stroke-width="0.6"/><circle cx="321.8" cy="964.3" r="2.3" fill="#0000d2" fill-opacity="0.72" stroke="#000098" stroke-opacity="0.7" stroke-width="0.6"/><circle cx="324.9" cy="962.5" r="2.3" fill="#0000d2" fill-opacity="0.72" stroke="#000098" stroke-opacity="0.7" stroke-width="0.6"/><circle cx="327.3" cy="939.7" r="2.3" fill="#0000d2" fill-opacity="0.72" stroke="#000098" stroke-opacity="0.7" stroke-width="0.6"/><circle cx="328.0" cy="942.0" r="2.3" fill="#0000d2" fill-opacity="0.72" stroke="#000098" stroke-opacity="0.7" stroke-width="0.6"/><circle cx="334.5" cy="985.1" r="2.3" fill="#0000d2" fill-opacity="0.72" stroke="#000098" stroke-opacity="0.7" stroke-width="0.6"/><circle cx="339.4" cy="985.5" r="2.3" fill="#0000d2" fill-opacity="0.72" stroke="#000098" stroke-opacity="0.7" stroke-width="0.6"/><circle cx="335.2" cy="962.8" r="2.3" fill="#0000d2" fill-opacity="0.72" stroke="#000098" stroke-opacity="0.7" stroke-width="0.6"/><circle cx="337.2" cy="948.0" r="2.3" fill="#0000d2" fill-opacity="0.72" stroke="#000098" stroke-opacity="0.7" stroke-width="0.6"/><circle cx="341.7" cy="932.1" r="2.3" fill="#0000d2" fill-opacity="0.72" stroke="#000098" stroke-opacity="0.7" stroke-width="0.6"/><circle cx="343.0" cy="943.3" r="2.3" fill="#0000d2" fill-opacity="0.72" stroke="#000098" stroke-opacity="0.7" stroke-width="0.6"/><circle cx="348.4" cy="943.8" r="2.3" fill="#0000d2" fill-opacity="0.72" stroke="#000098" stroke-opacity="0.7" stroke-width="0.6"/><circle cx="349.0" cy="945.7" r="2.3" fill="#0000d2" fill-opacity="0.72" stroke="#000098" stroke-opacity="0.7" stroke-width="0.6"/><circle cx="348.4" cy="950.2" r="2.3" fill="#0000d2" fill-opacity="0.72" stroke="#000098" stroke-opacity="0.7" stroke-width="0.6"/><circle cx="352.6" cy="960.7" r="2.3" fill="#0000d2" fill-opacity="0.72" stroke="#000098" stroke-opacity="0.7" stroke-width="0.6"/><circle cx="348.4" cy="966.5" r="2.3" fill="#0000d2" fill-opacity="0.72" stroke="#000098" stroke-opacity="0.7" stroke-width="0.6"/><circle cx="348.4" cy="969.2" r="2.3" fill="#0000d2" fill-opacity="0.72" stroke="#000098" stroke-opacity="0.7" stroke-width="0.6"/><circle cx="354.4" cy="940.2" r="2.3" fill="#0000d2" fill-opacity="0.72" stroke="#000098" stroke-opacity="0.7" stroke-width="0.6"/><circle cx="354.4" cy="944.4" r="2.3" fill="#0000d2" fill-opacity="0.72" stroke="#000098" stroke-opacity="0.7" stroke-width="0.6"/><circle cx="354.4" cy="952.0" r="2.3" fill="#0000d2" fill-opacity="0.72" stroke="#000098" stroke-opacity="0.7" stroke-width="0.6"/><circle cx="360.2" cy="946.6" r="2.3" fill="#0000d2" fill-opacity="0.72" stroke="#000098" stroke-opacity="0.7" stroke-width="0.6"/><circle cx="365.6" cy="946.9" r="2.3" fill="#0000d2" fill-opacity="0.72" stroke="#000098" stroke-opacity="0.7" stroke-width="0.6"/><circle cx="367.4" cy="924.1" r="2.3" fill="#0000d2" fill-opacity="0.72" stroke="#000098" stroke-opacity="0.7" stroke-width="0.6"/><circle cx="369.6" cy="956.5" r="2.3" fill="#0000d2" fill-opacity="0.72" stroke="#000098" stroke-opacity="0.7" stroke-width="0.6"/><circle cx="369.6" cy="959.2" r="2.3" fill="#0000d2" fill-opacity="0.72" stroke="#000098" stroke-opacity="0.7" stroke-width="0.6"/><circle cx="369.6" cy="961.0" r="2.3" fill="#0000d2" fill-opacity="0.72" stroke="#000098" stroke-opacity="0.7" stroke-width="0.6"/><circle cx="375.0" cy="904.0" r="2.3" fill="#0000d2" fill-opacity="0.72" stroke="#000098" stroke-opacity="0.7" stroke-width="0.6"/><circle cx="375.0" cy="910.4" r="2.3" fill="#0000d2" fill-opacity="0.72" stroke="#000098" stroke-opacity="0.7" stroke-width="0.6"/><circle cx="375.0" cy="913.1" r="2.3" fill="#0000d2" fill-opacity="0.72" stroke="#000098" stroke-opacity="0.7" stroke-width="0.6"/><circle cx="375.6" cy="921.2" r="2.3" fill="#0000d2" fill-opacity="0.72" stroke="#000098" stroke-opacity="0.7" stroke-width="0.6"/><circle cx="378.3" cy="919.4" r="2.3" fill="#0000d2" fill-opacity="0.72" stroke="#000098" stroke-opacity="0.7" stroke-width="0.6"/><circle cx="378.3" cy="922.1" r="2.3" fill="#0000d2" fill-opacity="0.72" stroke="#000098" stroke-opacity="0.7" stroke-width="0.6"/><circle cx="378.3" cy="924.5" r="2.3" fill="#0000d2" fill-opacity="0.72" stroke="#000098" stroke-opacity="0.7" stroke-width="0.6"/><circle cx="378.3" cy="934.3" r="2.3" fill="#0000d2" fill-opacity="0.72" stroke="#000098" stroke-opacity="0.7" stroke-width="0.6"/><circle cx="383.3" cy="904.9" r="2.3" fill="#0000d2" fill-opacity="0.72" stroke="#000098" stroke-opacity="0.7" stroke-width="0.6"/><circle cx="388.2" cy="945.1" r="2.3" fill="#0000d2" fill-opacity="0.72" stroke="#000098" stroke-opacity="0.7" stroke-width="0.6"/><line x1="188.96" y1="1068.72" x2="389.17" y2="885.89" stroke="#c42c2c" stroke-width="1.75" stroke-dasharray="5.4 2.0"/><rect x="178.60" y="876.40" width="219.70" height="201.20" fill="none" stroke="#7a7a7a" stroke-width="1"/><line x1="199.50" y1="1077.60" x2="199.50" y2="1080.50" stroke="#555" stroke-width="0.9"/><text x="199.50" y="1088.30" font-size="7.83" text-anchor="middle" fill="#2a2a2a" textLength="15.59" lengthAdjust="spacingAndGlyphs">0.50</text><line x1="225.84" y1="1077.60" x2="225.84" y2="1080.50" stroke="#555" stroke-width="0.9"/><text x="225.84" y="1088.30" font-size="7.83" text-anchor="middle" fill="#2a2a2a" textLength="15.59" lengthAdjust="spacingAndGlyphs">0.75</text><line x1="252.18" y1="1077.60" x2="252.18" y2="1080.50" stroke="#555" stroke-width="0.9"/><text x="252.18" y="1088.30" font-size="7.83" text-anchor="middle" fill="#2a2a2a" textLength="15.59" lengthAdjust="spacingAndGlyphs">1.00</text><line x1="278.52" y1="1077.60" x2="278.52" y2="1080.50" stroke="#555" stroke-width="0.9"/><text x="278.52" y="1088.30" font-size="7.83" text-anchor="middle" fill="#2a2a2a" textLength="15.59" lengthAdjust="spacingAndGlyphs">1.25</text><line x1="304.86" y1="1077.60" x2="304.86" y2="1080.50" stroke="#555" stroke-width="0.9"/><text x="304.86" y="1088.30" font-size="7.83" text-anchor="middle" fill="#2a2a2a" textLength="15.59" lengthAdjust="spacingAndGlyphs">1.50</text><line x1="331.20" y1="1077.60" x2="331.20" y2="1080.50" stroke="#555" stroke-width="0.9"/><text x="331.20" y="1088.30" font-size="7.83" text-anchor="middle" fill="#2a2a2a" textLength="15.59" lengthAdjust="spacingAndGlyphs">1.75</text><line x1="357.54" y1="1077.60" x2="357.54" y2="1080.50" stroke="#555" stroke-width="0.9"/><text x="357.54" y="1088.30" font-size="7.83" text-anchor="middle" fill="#2a2a2a" textLength="15.59" lengthAdjust="spacingAndGlyphs">2.00</text><line x1="383.88" y1="1077.60" x2="383.88" y2="1080.50" stroke="#555" stroke-width="0.9"/><text x="383.88" y="1088.30" font-size="7.83" text-anchor="middle" fill="#2a2a2a" textLength="15.59" lengthAdjust="spacingAndGlyphs">2.25</text><line x1="175.70" y1="1059.10" x2="178.60" y2="1059.10" stroke="#555" stroke-width="0.9"/><text x="173.70" y="1061.85" font-size="7.83" text-anchor="end" fill="#2a2a2a" textLength="15.59" lengthAdjust="spacingAndGlyphs">0.50</text><line x1="175.70" y1="1035.04" x2="178.60" y2="1035.04" stroke="#555" stroke-width="0.9"/><text x="173.70" y="1037.79" font-size="7.83" text-anchor="end" fill="#2a2a2a" textLength="15.59" lengthAdjust="spacingAndGlyphs">0.75</text><line x1="175.70" y1="1010.98" x2="178.60" y2="1010.98" stroke="#555" stroke-width="0.9"/><text x="173.70" y="1013.73" font-size="7.83" text-anchor="end" fill="#2a2a2a" textLength="15.59" lengthAdjust="spacingAndGlyphs">1.00</text><line x1="175.70" y1="986.92" x2="178.60" y2="986.92" stroke="#555" stroke-width="0.9"/><text x="173.70" y="989.67" font-size="7.83" text-anchor="end" fill="#2a2a2a" textLength="15.59" lengthAdjust="spacingAndGlyphs">1.25</text><line x1="175.70" y1="962.86" x2="178.60" y2="962.86" stroke="#555" stroke-width="0.9"/><text x="173.70" y="965.61" font-size="7.83" text-anchor="end" fill="#2a2a2a" textLength="15.59" lengthAdjust="spacingAndGlyphs">1.50</text><line x1="175.70" y1="938.80" x2="178.60" y2="938.80" stroke="#555" stroke-width="0.9"/><text x="173.70" y="941.55" font-size="7.83" text-anchor="end" fill="#2a2a2a" textLength="15.59" lengthAdjust="spacingAndGlyphs">1.75</text><line x1="175.70" y1="914.74" x2="178.60" y2="914.74" stroke="#555" stroke-width="0.9"/><text x="173.70" y="917.49" font-size="7.83" text-anchor="end" fill="#2a2a2a" textLength="15.59" lengthAdjust="spacingAndGlyphs">2.00</text><line x1="175.70" y1="890.68" x2="178.60" y2="890.68" stroke="#555" stroke-width="0.9"/><text x="173.70" y="893.43" font-size="7.83" text-anchor="end" fill="#2a2a2a" textLength="15.59" lengthAdjust="spacingAndGlyphs">2.25</text><text x="288.45" y="1099.80" font-size="8.88" text-anchor="middle" fill="#2a2a2a" textLength="53.00" lengthAdjust="spacingAndGlyphs">Actual Value</text><text x="0" y="0" font-size="8.88" text-anchor="middle" fill="#2a2a2a" textLength="65.8" lengthAdjust="spacingAndGlyphs" transform="translate(152.71,977.00) rotate(-90)">Predicted Value</text><text x="288.45" y="860.80" font-size="10.24" text-anchor="middle" fill="#2a2a2a" textLength="49.68" lengthAdjust="spacingAndGlyphs">ElasticNet</text><text x="264.65" y="871.60" font-size="10.24" font-style="italic" fill="#2a2a2a" textLength="6.0" lengthAdjust="spacingAndGlyphs">R</text><text x="271.75" y="867.50" font-size="7.37" fill="#2a2a2a" textLength="3.9" lengthAdjust="spacingAndGlyphs">2</text><text x="279.95" y="871.60" font-size="10.24" fill="#2a2a2a" textLength="7.0" lengthAdjust="spacingAndGlyphs">=</text><text x="291.85" y="871.60" font-size="10.24" fill="#2a2a2a" textLength="20.6" lengthAdjust="spacingAndGlyphs">0.60</text><rect x="182.20" y="879.40" width="94.3" height="23.8" rx="1.5" fill="#fff" fill-opacity="0.8" stroke="#d9d9d9" stroke-width="0.8"/><circle cx="192.10" cy="886.10" r="2.3" fill="#0000d2" fill-opacity="0.72" stroke="#000098" stroke-opacity="0.7" stroke-width="0.6"/><line x1="184.90" y1="895.80" x2="198.00" y2="895.80" stroke="#c42c2c" stroke-width="1.75" stroke-dasharray="5.6 2.1"/><text x="205.30" y="888.20" font-size="7.31" text-anchor="start" fill="#2a2a2a" textLength="66.60" lengthAdjust="spacingAndGlyphs">Predicted vs Actual</text><text x="205.30" y="898.80" font-size="7.31" text-anchor="start" fill="#2a2a2a" textLength="27.48" lengthAdjust="spacingAndGlyphs">Ideal Fit</text></g><g><circle cx="464.8" cy="1008.6" r="2.3" fill="#0000d2" fill-opacity="0.72" stroke="#000098" stroke-opacity="0.7" stroke-width="0.6"/><circle cx="496.2" cy="1013.6" r="2.3" fill="#0000d2" fill-opacity="0.72" stroke="#000098" stroke-opacity="0.7" stroke-width="0.6"/><circle cx="510.8" cy="996.6" r="2.3" fill="#0000d2" fill-opacity="0.72" stroke="#000098" stroke-opacity="0.7" stroke-width="0.6"/><circle cx="515.5" cy="1010.8" r="2.3" fill="#0000d2" fill-opacity="0.72" stroke="#000098" stroke-opacity="0.7" stroke-width="0.6"/><circle cx="513.1" cy="1016.1" r="2.3" fill="#0000d2" fill-opacity="0.72" stroke="#000098" stroke-opacity="0.7" stroke-width="0.6"/><circle cx="520.3" cy="1013.1" r="2.3" fill="#0000d2" fill-opacity="0.72" stroke="#000098" stroke-opacity="0.7" stroke-width="0.6"/><circle cx="521.6" cy="1014.9" r="2.3" fill="#0000d2" fill-opacity="0.72" stroke="#000098" stroke-opacity="0.7" stroke-width="0.6"/><circle cx="521.2" cy="980.3" r="2.3" fill="#0000d2" fill-opacity="0.72" stroke="#000098" stroke-opacity="0.7" stroke-width="0.6"/><circle cx="526.2" cy="1017.2" r="2.3" fill="#0000d2" fill-opacity="0.72" stroke="#000098" stroke-opacity="0.7" stroke-width="0.6"/><circle cx="526.2" cy="1026.9" r="2.3" fill="#0000d2" fill-opacity="0.72" stroke="#000098" stroke-opacity="0.7" stroke-width="0.6"/><circle cx="530.1" cy="1006.8" r="2.3" fill="#0000d2" fill-opacity="0.72" stroke="#000098" stroke-opacity="0.7" stroke-width="0.6"/><circle cx="531.0" cy="1009.5" r="2.3" fill="#0000d2" fill-opacity="0.72" stroke="#000098" stroke-opacity="0.7" stroke-width="0.6"/><circle cx="532.8" cy="1010.8" r="2.3" fill="#0000d2" fill-opacity="0.72" stroke="#000098" stroke-opacity="0.7" stroke-width="0.6"/><circle cx="535.5" cy="1008.6" r="2.3" fill="#0000d2" fill-opacity="0.72" stroke="#000098" stroke-opacity="0.7" stroke-width="0.6"/><circle cx="531.9" cy="981.4" r="2.3" fill="#0000d2" fill-opacity="0.72" stroke="#000098" stroke-opacity="0.7" stroke-width="0.6"/><circle cx="532.3" cy="985.0" r="2.3" fill="#0000d2" fill-opacity="0.72" stroke="#000098" stroke-opacity="0.7" stroke-width="0.6"/><circle cx="531.9" cy="993.4" r="2.3" fill="#0000d2" fill-opacity="0.72" stroke="#000098" stroke-opacity="0.7" stroke-width="0.6"/><circle cx="532.3" cy="994.3" r="2.3" fill="#0000d2" fill-opacity="0.72" stroke="#000098" stroke-opacity="0.7" stroke-width="0.6"/><circle cx="532.3" cy="999.3" r="2.3" fill="#0000d2" fill-opacity="0.72" stroke="#000098" stroke-opacity="0.7" stroke-width="0.6"/><circle cx="536.9" cy="982.7" r="2.3" fill="#0000d2" fill-opacity="0.72" stroke="#000098" stroke-opacity="0.7" stroke-width="0.6"/><circle cx="538.7" cy="987.1" r="2.3" fill="#0000d2" fill-opacity="0.72" stroke="#000098" stroke-opacity="0.7" stroke-width="0.6"/><circle cx="536.4" cy="1019.7" r="2.3" fill="#0000d2" fill-opacity="0.72" stroke="#000098" stroke-opacity="0.7" stroke-width="0.6"/><circle cx="536.4" cy="1035.8" r="2.3" fill="#0000d2" fill-opacity="0.72" stroke="#000098" stroke-opacity="0.7" stroke-width="0.6"/><circle cx="536.4" cy="1037.6" r="2.3" fill="#0000d2" fill-opacity="0.72" stroke="#000098" stroke-opacity="0.7" stroke-width="0.6"/><circle cx="536.4" cy="1041.2" r="2.3" fill="#0000d2" fill-opacity="0.72" stroke="#000098" stroke-opacity="0.7" stroke-width="0.6"/><circle cx="541.8" cy="942.8" r="2.3" fill="#0000d2" fill-opacity="0.72" stroke="#000098" stroke-opacity="0.7" stroke-width="0.6"/><circle cx="546.3" cy="951.4" r="2.3" fill="#0000d2" fill-opacity="0.72" stroke="#000098" stroke-opacity="0.7" stroke-width="0.6"/><circle cx="546.3" cy="957.6" r="2.3" fill="#0000d2" fill-opacity="0.72" stroke="#000098" stroke-opacity="0.7" stroke-width="0.6"/><circle cx="543.0" cy="971.6" r="2.3" fill="#0000d2" fill-opacity="0.72" stroke="#000098" stroke-opacity="0.7" stroke-width="0.6"/><circle cx="548.0" cy="992.2" r="2.3" fill="#0000d2" fill-opacity="0.72" stroke="#000098" stroke-opacity="0.7" stroke-width="0.6"/><circle cx="557.9" cy="967.1" r="2.3" fill="#0000d2" fill-opacity="0.72" stroke="#000098" stroke-opacity="0.7" stroke-width="0.6"/><circle cx="561.5" cy="968.4" r="2.3" fill="#0000d2" fill-opacity="0.72" stroke="#000098" stroke-opacity="0.7" stroke-width="0.6"/><circle cx="564.5" cy="968.4" r="2.3" fill="#0000d2" fill-opacity="0.72" stroke="#000098" stroke-opacity="0.7" stroke-width="0.6"/><circle cx="560.6" cy="994.3" r="2.3" fill="#0000d2" fill-opacity="0.72" stroke="#000098" stroke-opacity="0.7" stroke-width="0.6"/><circle cx="562.4" cy="949.2" r="2.3" fill="#0000d2" fill-opacity="0.72" stroke="#000098" stroke-opacity="0.7" stroke-width="0.6"/><circle cx="562.4" cy="951.4" r="2.3" fill="#0000d2" fill-opacity="0.72" stroke="#000098" stroke-opacity="0.7" stroke-width="0.6"/><circle cx="562.4" cy="954.0" r="2.3" fill="#0000d2" fill-opacity="0.72" stroke="#000098" stroke-opacity="0.7" stroke-width="0.6"/><circle cx="567.0" cy="913.4" r="2.3" fill="#0000d2" fill-opacity="0.72" stroke="#000098" stroke-opacity="0.7" stroke-width="0.6"/><circle cx="570.1" cy="938.8" r="2.3" fill="#0000d2" fill-opacity="0.72" stroke="#000098" stroke-opacity="0.7" stroke-width="0.6"/><circle cx="570.1" cy="941.5" r="2.3" fill="#0000d2" fill-opacity="0.72" stroke="#000098" stroke-opacity="0.7" stroke-width="0.6"/><circle cx="570.1" cy="945.1" r="2.3" fill="#0000d2" fill-opacity="0.72" stroke="#000098" stroke-opacity="0.7" stroke-width="0.6"/><circle cx="570.1" cy="948.7" r="2.3" fill="#0000d2" fill-opacity="0.72" stroke="#000098" stroke-opacity="0.7" stroke-width="0.6"/><circle cx="570.6" cy="961.2" r="2.3" fill="#0000d2" fill-opacity="0.72" stroke="#000098" stroke-opacity="0.7" stroke-width="0.6"/><circle cx="570.1" cy="963.9" r="2.3" fill="#0000d2" fill-opacity="0.72" stroke="#000098" stroke-opacity="0.7" stroke-width="0.6"/><circle cx="570.1" cy="966.6" r="2.3" fill="#0000d2" fill-opacity="0.72" stroke="#000098" stroke-opacity="0.7" stroke-width="0.6"/><circle cx="565.6" cy="968.4" r="2.3" fill="#0000d2" fill-opacity="0.72" stroke="#000098" stroke-opacity="0.7" stroke-width="0.6"/><circle cx="570.6" cy="974.3" r="2.3" fill="#0000d2" fill-opacity="0.72" stroke="#000098" stroke-opacity="0.7" stroke-width="0.6"/><circle cx="568.3" cy="980.0" r="2.3" fill="#0000d2" fill-opacity="0.72" stroke="#000098" stroke-opacity="0.7" stroke-width="0.6"/><circle cx="568.3" cy="984.5" r="2.3" fill="#0000d2" fill-opacity="0.72" stroke="#000098" stroke-opacity="0.7" stroke-width="0.6"/><circle cx="568.8" cy="985.7" r="2.3" fill="#0000d2" fill-opacity="0.72" stroke="#000098" stroke-opacity="0.7" stroke-width="0.6"/><circle cx="570.1" cy="993.4" r="2.3" fill="#0000d2" fill-opacity="0.72" stroke="#000098" stroke-opacity="0.7" stroke-width="0.6"/><circle cx="568.3" cy="996.1" r="2.3" fill="#0000d2" fill-opacity="0.72" stroke="#000098" stroke-opacity="0.7" stroke-width="0.6"/><circle cx="567.4" cy="1001.8" r="2.3" fill="#0000d2" fill-opacity="0.72" stroke="#000098" stroke-opacity="0.7" stroke-width="0.6"/><circle cx="573.6" cy="962.1" r="2.3" fill="#0000d2" fill-opacity="0.72" stroke="#000098" stroke-opacity="0.7" stroke-width="0.6"/><circle cx="576.3" cy="962.1" r="2.3" fill="#0000d2" fill-opacity="0.72" stroke="#000098" stroke-opacity="0.7" stroke-width="0.6"/><circle cx="577.7" cy="959.4" r="2.3" fill="#0000d2" fill-opacity="0.72" stroke="#000098" stroke-opacity="0.7" stroke-width="0.6"/><circle cx="577.7" cy="965.7" r="2.3" fill="#0000d2" fill-opacity="0.72" stroke="#000098" stroke-opacity="0.7" stroke-width="0.6"/><circle cx="577.7" cy="968.4" r="2.3" fill="#0000d2" fill-opacity="0.72" stroke="#000098" stroke-opacity="0.7" stroke-width="0.6"/><circle cx="578.5" cy="971.0" r="2.3" fill="#0000d2" fill-opacity="0.72" stroke="#000098" stroke-opacity="0.7" stroke-width="0.6"/><circle cx="578.5" cy="973.7" r="2.3" fill="#0000d2" fill-opacity="0.72" stroke="#000098" stroke-opacity="0.7" stroke-width="0.6"/><circle cx="578.5" cy="976.0" r="2.3" fill="#0000d2" fill-opacity="0.72" stroke="#000098" stroke-opacity="0.7" stroke-width="0.6"/><circle cx="578.1" cy="982.1" r="2.3" fill="#0000d2" fill-opacity="0.72" stroke="#000098" stroke-opacity="0.7" stroke-width="0.6"/><circle cx="578.1" cy="985.4" r="2.3" fill="#0000d2" fill-opacity="0.72" stroke="#000098" stroke-opacity="0.7" stroke-width="0.6"/><circle cx="578.1" cy="988.0" r="2.3" fill="#0000d2" fill-opacity="0.72" stroke="#000098" stroke-opacity="0.7" stroke-width="0.6"/><circle cx="578.1" cy="990.7" r="2.3" fill="#0000d2" fill-opacity="0.72" stroke="#000098" stroke-opacity="0.7" stroke-width="0.6"/><circle cx="581.3" cy="934.9" r="2.3" fill="#0000d2" fill-opacity="0.72" stroke="#000098" stroke-opacity="0.7" stroke-width="0.6"/><circle cx="578.5" cy="945.1" r="2.3" fill="#0000d2" fill-opacity="0.72" stroke="#000098" stroke-opacity="0.7" stroke-width="0.6"/><circle cx="581.3" cy="946.9" r="2.3" fill="#0000d2" fill-opacity="0.72" stroke="#000098" stroke-opacity="0.7" stroke-width="0.6"/><circle cx="580.8" cy="971.0" r="2.3" fill="#0000d2" fill-opacity="0.72" stroke="#000098" stroke-opacity="0.7" stroke-width="0.6"/><circle cx="585.6" cy="972.5" r="2.3" fill="#0000d2" fill-opacity="0.72" stroke="#000098" stroke-opacity="0.7" stroke-width="0.6"/><circle cx="588.5" cy="948.7" r="2.3" fill="#0000d2" fill-opacity="0.72" stroke="#000098" stroke-opacity="0.7" stroke-width="0.6"/><circle cx="589.7" cy="956.7" r="2.3" fill="#0000d2" fill-opacity="0.72" stroke="#000098" stroke-opacity="0.7" stroke-width="0.6"/><circle cx="589.7" cy="959.9" r="2.3" fill="#0000d2" fill-opacity="0.72" stroke="#000098" stroke-opacity="0.7" stroke-width="0.6"/><circle cx="595.1" cy="910.2" r="2.3" fill="#0000d2" fill-opacity="0.72" stroke="#000098" stroke-opacity="0.7" stroke-width="0.6"/><circle cx="596.9" cy="910.6" r="2.3" fill="#0000d2" fill-opacity="0.72" stroke="#000098" stroke-opacity="0.7" stroke-width="0.6"/><circle cx="602.3" cy="914.7" r="2.3" fill="#0000d2" fill-opacity="0.72" stroke="#000098" stroke-opacity="0.7" stroke-width="0.6"/><circle cx="596.4" cy="942.1" r="2.3" fill="#0000d2" fill-opacity="0.72" stroke="#000098" stroke-opacity="0.7" stroke-width="0.6"/><circle cx="596.9" cy="951.4" r="2.3" fill="#0000d2" fill-opacity="0.72" stroke="#000098" stroke-opacity="0.7" stroke-width="0.6"/><circle cx="596.9" cy="962.1" r="2.3" fill="#0000d2" fill-opacity="0.72" stroke="#000098" stroke-opacity="0.7" stroke-width="0.6"/><circle cx="603.2" cy="931.7" r="2.3" fill="#0000d2" fill-opacity="0.72" stroke="#000098" stroke-opacity="0.7" stroke-width="0.6"/><circle cx="603.2" cy="940.3" r="2.3" fill="#0000d2" fill-opacity="0.72" stroke="#000098" stroke-opacity="0.7" stroke-width="0.6"/><circle cx="603.5" cy="945.1" r="2.3" fill="#0000d2" fill-opacity="0.72" stroke="#000098" stroke-opacity="0.7" stroke-width="0.6"/><circle cx="603.2" cy="954.0" r="2.3" fill="#0000d2" fill-opacity="0.72" stroke="#000098" stroke-opacity="0.7" stroke-width="0.6"/><circle cx="610.3" cy="943.3" r="2.3" fill="#0000d2" fill-opacity="0.72" stroke="#000098" stroke-opacity="0.7" stroke-width="0.6"/><circle cx="611.2" cy="945.6" r="2.3" fill="#0000d2" fill-opacity="0.72" stroke="#000098" stroke-opacity="0.7" stroke-width="0.6"/><circle cx="612.1" cy="948.7" r="2.3" fill="#0000d2" fill-opacity="0.72" stroke="#000098" stroke-opacity="0.7" stroke-width="0.6"/><circle cx="613.0" cy="950.5" r="2.3" fill="#0000d2" fill-opacity="0.72" stroke="#000098" stroke-opacity="0.7" stroke-width="0.6"/><circle cx="613.9" cy="945.1" r="2.3" fill="#0000d2" fill-opacity="0.72" stroke="#000098" stroke-opacity="0.7" stroke-width="0.6"/><circle cx="611.2" cy="942.4" r="2.3" fill="#0000d2" fill-opacity="0.72" stroke="#000098" stroke-opacity="0.7" stroke-width="0.6"/><circle cx="610.0" cy="956.7" r="2.3" fill="#0000d2" fill-opacity="0.72" stroke="#000098" stroke-opacity="0.7" stroke-width="0.6"/><circle cx="610.0" cy="960.7" r="2.3" fill="#0000d2" fill-opacity="0.72" stroke="#000098" stroke-opacity="0.7" stroke-width="0.6"/><circle cx="609.4" cy="964.8" r="2.3" fill="#0000d2" fill-opacity="0.72" stroke="#000098" stroke-opacity="0.7" stroke-width="0.6"/><circle cx="616.6" cy="939.7" r="2.3" fill="#0000d2" fill-opacity="0.72" stroke="#000098" stroke-opacity="0.7" stroke-width="0.6"/><circle cx="617.1" cy="946.0" r="2.3" fill="#0000d2" fill-opacity="0.72" stroke="#000098" stroke-opacity="0.7" stroke-width="0.6"/><circle cx="617.1" cy="950.5" r="2.3" fill="#0000d2" fill-opacity="0.72" stroke="#000098" stroke-opacity="0.7" stroke-width="0.6"/><circle cx="617.1" cy="965.1" r="2.3" fill="#0000d2" fill-opacity="0.72" stroke="#000098" stroke-opacity="0.7" stroke-width="0.6"/><circle cx="614.2" cy="988.6" r="2.3" fill="#0000d2" fill-opacity="0.72" stroke="#000098" stroke-opacity="0.7" stroke-width="0.6"/><circle cx="618.4" cy="905.7" r="2.3" fill="#0000d2" fill-opacity="0.72" stroke="#000098" stroke-opacity="0.7" stroke-width="0.6"/><circle cx="623.7" cy="927.2" r="2.3" fill="#0000d2" fill-opacity="0.72" stroke="#000098" stroke-opacity="0.7" stroke-width="0.6"/><circle cx="623.7" cy="972.5" r="2.3" fill="#0000d2" fill-opacity="0.72" stroke="#000098" stroke-opacity="0.7" stroke-width="0.6"/><circle cx="627.3" cy="966.7" r="2.3" fill="#0000d2" fill-opacity="0.72" stroke="#000098" stroke-opacity="0.7" stroke-width="0.6"/><circle cx="629.6" cy="914.7" r="2.3" fill="#0000d2" fill-opacity="0.72" stroke="#000098" stroke-opacity="0.7" stroke-width="0.6"/><circle cx="629.6" cy="920.9" r="2.3" fill="#0000d2" fill-opacity="0.72" stroke="#000098" stroke-opacity="0.7" stroke-width="0.6"/><circle cx="629.6" cy="924.2" r="2.3" fill="#0000d2" fill-opacity="0.72" stroke="#000098" stroke-opacity="0.7" stroke-width="0.6"/><circle cx="629.6" cy="929.0" r="2.3" fill="#0000d2" fill-opacity="0.72" stroke="#000098" stroke-opacity="0.7" stroke-width="0.6"/><circle cx="629.6" cy="933.5" r="2.3" fill="#0000d2" fill-opacity="0.72" stroke="#000098" stroke-opacity="0.7" stroke-width="0.6"/><circle cx="635.4" cy="911.1" r="2.3" fill="#0000d2" fill-opacity="0.72" stroke="#000098" stroke-opacity="0.7" stroke-width="0.6"/><circle cx="642.2" cy="913.4" r="2.3" fill="#0000d2" fill-opacity="0.72" stroke="#000098" stroke-opacity="0.7" stroke-width="0.6"/><circle cx="640.7" cy="978.6" r="2.3" fill="#0000d2" fill-opacity="0.72" stroke="#000098" stroke-opacity="0.7" stroke-width="0.6"/><circle cx="644.7" cy="948.7" r="2.3" fill="#0000d2" fill-opacity="0.72" stroke="#000098" stroke-opacity="0.7" stroke-width="0.6"/><circle cx="650.0" cy="908.8" r="2.3" fill="#0000d2" fill-opacity="0.72" stroke="#000098" stroke-opacity="0.7" stroke-width="0.6"/><circle cx="653.3" cy="936.1" r="2.3" fill="#0000d2" fill-opacity="0.72" stroke="#000098" stroke-opacity="0.7" stroke-width="0.6"/><circle cx="658.3" cy="920.4" r="2.3" fill="#0000d2" fill-opacity="0.72" stroke="#000098" stroke-opacity="0.7" stroke-width="0.6"/><circle cx="663.1" cy="923.1" r="2.3" fill="#0000d2" fill-opacity="0.72" stroke="#000098" stroke-opacity="0.7" stroke-width="0.6"/><line x1="464.53" y1="1069.11" x2="663.43" y2="886.49" stroke="#c42c2c" stroke-width="1.75" stroke-dasharray="5.4 2.0"/><rect x="454.90" y="878.30" width="218.80" height="199.50" fill="none" stroke="#7a7a7a" stroke-width="1"/><line x1="475.00" y1="1077.80" x2="475.00" y2="1080.70" stroke="#555" stroke-width="0.9"/><text x="475.00" y="1088.50" font-size="7.83" text-anchor="middle" fill="#2a2a2a" textLength="15.59" lengthAdjust="spacingAndGlyphs">0.50</text><line x1="501.17" y1="1077.80" x2="501.17" y2="1080.70" stroke="#555" stroke-width="0.9"/><text x="501.17" y="1088.50" font-size="7.83" text-anchor="middle" fill="#2a2a2a" textLength="15.59" lengthAdjust="spacingAndGlyphs">0.75</text><line x1="527.34" y1="1077.80" x2="527.34" y2="1080.70" stroke="#555" stroke-width="0.9"/><text x="527.34" y="1088.50" font-size="7.83" text-anchor="middle" fill="#2a2a2a" textLength="15.59" lengthAdjust="spacingAndGlyphs">1.00</text><line x1="553.51" y1="1077.80" x2="553.51" y2="1080.70" stroke="#555" stroke-width="0.9"/><text x="553.51" y="1088.50" font-size="7.83" text-anchor="middle" fill="#2a2a2a" textLength="15.59" lengthAdjust="spacingAndGlyphs">1.25</text><line x1="579.68" y1="1077.80" x2="579.68" y2="1080.70" stroke="#555" stroke-width="0.9"/><text x="579.68" y="1088.50" font-size="7.83" text-anchor="middle" fill="#2a2a2a" textLength="15.59" lengthAdjust="spacingAndGlyphs">1.50</text><line x1="605.85" y1="1077.80" x2="605.85" y2="1080.70" stroke="#555" stroke-width="0.9"/><text x="605.85" y="1088.50" font-size="7.83" text-anchor="middle" fill="#2a2a2a" textLength="15.59" lengthAdjust="spacingAndGlyphs">1.75</text><line x1="632.02" y1="1077.80" x2="632.02" y2="1080.70" stroke="#555" stroke-width="0.9"/><text x="632.02" y="1088.50" font-size="7.83" text-anchor="middle" fill="#2a2a2a" textLength="15.59" lengthAdjust="spacingAndGlyphs">2.00</text><line x1="658.19" y1="1077.80" x2="658.19" y2="1080.70" stroke="#555" stroke-width="0.9"/><text x="658.19" y="1088.50" font-size="7.83" text-anchor="middle" fill="#2a2a2a" textLength="15.59" lengthAdjust="spacingAndGlyphs">2.25</text><line x1="452.00" y1="1059.50" x2="454.90" y2="1059.50" stroke="#555" stroke-width="0.9"/><text x="450.00" y="1062.25" font-size="7.83" text-anchor="end" fill="#2a2a2a" textLength="15.59" lengthAdjust="spacingAndGlyphs">0.50</text><line x1="452.00" y1="1035.47" x2="454.90" y2="1035.47" stroke="#555" stroke-width="0.9"/><text x="450.00" y="1038.22" font-size="7.83" text-anchor="end" fill="#2a2a2a" textLength="15.59" lengthAdjust="spacingAndGlyphs">0.75</text><line x1="452.00" y1="1011.44" x2="454.90" y2="1011.44" stroke="#555" stroke-width="0.9"/><text x="450.00" y="1014.19" font-size="7.83" text-anchor="end" fill="#2a2a2a" textLength="15.59" lengthAdjust="spacingAndGlyphs">1.00</text><line x1="452.00" y1="987.41" x2="454.90" y2="987.41" stroke="#555" stroke-width="0.9"/><text x="450.00" y="990.16" font-size="7.83" text-anchor="end" fill="#2a2a2a" textLength="15.59" lengthAdjust="spacingAndGlyphs">1.25</text><line x1="452.00" y1="963.38" x2="454.90" y2="963.38" stroke="#555" stroke-width="0.9"/><text x="450.00" y="966.13" font-size="7.83" text-anchor="end" fill="#2a2a2a" textLength="15.59" lengthAdjust="spacingAndGlyphs">1.50</text><line x1="452.00" y1="939.35" x2="454.90" y2="939.35" stroke="#555" stroke-width="0.9"/><text x="450.00" y="942.10" font-size="7.83" text-anchor="end" fill="#2a2a2a" textLength="15.59" lengthAdjust="spacingAndGlyphs">1.75</text><line x1="452.00" y1="915.32" x2="454.90" y2="915.32" stroke="#555" stroke-width="0.9"/><text x="450.00" y="918.07" font-size="7.83" text-anchor="end" fill="#2a2a2a" textLength="15.59" lengthAdjust="spacingAndGlyphs">2.00</text><line x1="452.00" y1="891.29" x2="454.90" y2="891.29" stroke="#555" stroke-width="0.9"/><text x="450.00" y="894.04" font-size="7.83" text-anchor="end" fill="#2a2a2a" textLength="15.59" lengthAdjust="spacingAndGlyphs">2.25</text><text x="564.30" y="1100.00" font-size="8.88" text-anchor="middle" fill="#2a2a2a" textLength="53.00" lengthAdjust="spacingAndGlyphs">Actual Value</text><text x="0" y="0" font-size="8.88" text-anchor="middle" fill="#2a2a2a" textLength="65.8" lengthAdjust="spacingAndGlyphs" transform="translate(428.91,978.05) rotate(-90)">Predicted Value</text><text x="563.30" y="862.60" font-size="10.24" text-anchor="middle" fill="#2a2a2a" textLength="72.15" lengthAdjust="spacingAndGlyphs">RandomForest</text><text x="540.50" y="873.50" font-size="10.24" font-style="italic" fill="#2a2a2a" textLength="6.0" lengthAdjust="spacingAndGlyphs">R</text><text x="547.60" y="869.40" font-size="7.37" fill="#2a2a2a" textLength="3.9" lengthAdjust="spacingAndGlyphs">2</text><text x="555.80" y="873.50" font-size="10.24" fill="#2a2a2a" textLength="7.0" lengthAdjust="spacingAndGlyphs">=</text><text x="567.70" y="873.50" font-size="10.24" fill="#2a2a2a" textLength="20.6" lengthAdjust="spacingAndGlyphs">0.55</text><rect x="458.50" y="881.30" width="94.3" height="23.8" rx="1.5" fill="#fff" fill-opacity="0.8" stroke="#d9d9d9" stroke-width="0.8"/><circle cx="468.40" cy="888.00" r="2.3" fill="#0000d2" fill-opacity="0.72" stroke="#000098" stroke-opacity="0.7" stroke-width="0.6"/><line x1="461.20" y1="897.70" x2="474.30" y2="897.70" stroke="#c42c2c" stroke-width="1.75" stroke-dasharray="5.6 2.1"/><text x="481.60" y="890.10" font-size="7.31" text-anchor="start" fill="#2a2a2a" textLength="66.60" lengthAdjust="spacingAndGlyphs">Predicted vs Actual</text><text x="481.60" y="900.70" font-size="7.31" text-anchor="start" fill="#2a2a2a" textLength="27.48" lengthAdjust="spacingAndGlyphs">Ideal Fit</text></g>
<text x="288" y="1112" font-size="5" fill="#ccc" text-anchor="middle" letter-spacing="1">· ·· · · ·</text>
</svg>
</div></body></html>
